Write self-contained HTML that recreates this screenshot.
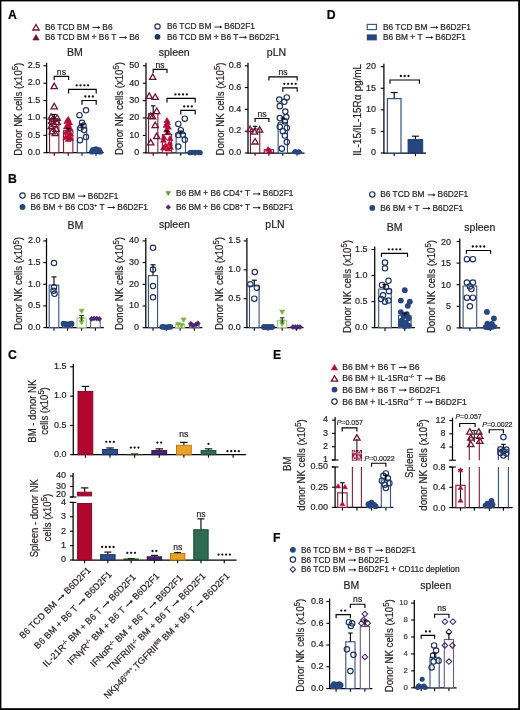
<!DOCTYPE html>
<html><head><meta charset="utf-8"><style>
html,body{margin:0;padding:0;background:#fff;width:520px;height:710px;overflow:hidden;}
svg{display:block;font-family:"Liberation Sans",sans-serif;will-change:transform;}
text{stroke-width:0.2px;}
#w{width:520px;height:710px;background:#fff;}
</style></head><body><div id="w">
<svg width="520" height="710" viewBox="0 0 520 710" font-family="Liberation Sans, sans-serif"><text x="0" y="0" font-size="13.6" font-weight="bold" fill="#000" stroke="#000" transform="translate(8.1 18.7) scale(0.9 1)" xml:space="preserve" style="white-space:pre"><tspan x="0" dy="0">A</tspan></text>
<path d="M36 24.53L39.15 30.01L32.85 30.01Z" stroke="#6e1532" stroke-width="1.3" fill="none" stroke-linejoin="miter"/>
<text x="45" y="29.92" font-size="8.35" fill="#231f20" stroke="#231f20" xml:space="preserve" style="white-space:pre"><tspan x="45" dy="0">B6 TCD BM </tspan><tspan x="100.06" dy="0"> B6</tspan></text>
<g><path d="M92.54 27.5L99.18 27.5" stroke="#231f20" stroke-width="0.96" fill="none"/><path d="M100.31 27.5L98.05 25.91L98.05 29.09Z" fill="#231f20"/></g>
<path d="M36 34.53L39.15 40.01L32.85 40.01Z" stroke="#6e1532" stroke-width="0.6" fill="#6e1532" />
<text x="45" y="39.92" font-size="8.35" fill="#231f20" stroke="#231f20" xml:space="preserve" style="white-space:pre"><tspan x="45" dy="0">B6 TCD BM + B6 T </tspan><tspan x="126.91" dy="0"> B6</tspan></text>
<g><path d="M119.39 37.5L126.03 37.5" stroke="#231f20" stroke-width="0.96" fill="none"/><path d="M127.16 37.5L124.9 35.91L124.9 39.09Z" fill="#231f20"/></g>
<circle cx="157.5" cy="26.5" r="2.7" fill="none" stroke="#1f3360" stroke-width="1.15"/>
<text x="167" y="29.42" font-size="8.35" fill="#231f20" stroke="#231f20" xml:space="preserve" style="white-space:pre"><tspan x="167" dy="0">B6 TCD BM </tspan><tspan x="222.06" dy="0"> B6D2F1</tspan></text>
<g><path d="M214.54 27L221.18 27" stroke="#231f20" stroke-width="0.96" fill="none"/><path d="M222.31 27L220.05 25.41L220.05 28.59Z" fill="#231f20"/></g>
<circle cx="157.5" cy="36.8" r="2.9" fill="#1f3360"/>
<text x="167" y="39.72" font-size="8.35" fill="#231f20" stroke="#231f20" xml:space="preserve" style="white-space:pre"><tspan x="167" dy="0">B6 TCD BM + B6 T</tspan><tspan x="246.74" dy="0"> B6D2F1</tspan></text>
<g><path d="M239.22 37.3L245.86 37.3" stroke="#231f20" stroke-width="0.96" fill="none"/><path d="M246.99 37.3L244.73 35.71L244.73 38.89Z" fill="#231f20"/></g>
<text x="67.12" y="55.8" font-size="10.5" fill="#231f20" stroke="#231f20" xml:space="preserve" style="white-space:pre"><tspan x="67.12" dy="0">BM</tspan></text>
<text x="158.73" y="55.5" font-size="10.5" fill="#231f20" stroke="#231f20" xml:space="preserve" style="white-space:pre"><tspan x="158.73" dy="0">spleen</tspan></text>
<text x="266.87" y="55.5" font-size="10.5" fill="#231f20" stroke="#231f20" xml:space="preserve" style="white-space:pre"><tspan x="266.87" dy="0">pLN</tspan></text>
<line x1="46.6" y1="152.7" x2="46.6" y2="62.8" stroke="#000" stroke-width="1.25"/>
<line x1="46" y1="152.7" x2="103.7" y2="152.7" stroke="#000" stroke-width="1.25"/>
<line x1="43.4" y1="152.7" x2="46.6" y2="152.7" stroke="#000" stroke-width="1.1"/>
<text x="27.69" y="154.99" font-size="9" fill="#231f20" stroke="#231f20" xml:space="preserve" style="white-space:pre"><tspan x="27.69" dy="0">0.0</tspan></text>
<line x1="43.4" y1="135.32" x2="46.6" y2="135.32" stroke="#000" stroke-width="1.1"/>
<text x="27.69" y="137.61" font-size="9" fill="#231f20" stroke="#231f20" xml:space="preserve" style="white-space:pre"><tspan x="27.69" dy="0">0.5</tspan></text>
<line x1="43.4" y1="117.94" x2="46.6" y2="117.94" stroke="#000" stroke-width="1.1"/>
<text x="27.69" y="120.23" font-size="9" fill="#231f20" stroke="#231f20" xml:space="preserve" style="white-space:pre"><tspan x="27.69" dy="0">1.0</tspan></text>
<line x1="43.4" y1="100.56" x2="46.6" y2="100.56" stroke="#000" stroke-width="1.1"/>
<text x="27.69" y="102.85" font-size="9" fill="#231f20" stroke="#231f20" xml:space="preserve" style="white-space:pre"><tspan x="27.69" dy="0">1.5</tspan></text>
<line x1="43.4" y1="83.18" x2="46.6" y2="83.18" stroke="#000" stroke-width="1.1"/>
<text x="27.69" y="85.47" font-size="9" fill="#231f20" stroke="#231f20" xml:space="preserve" style="white-space:pre"><tspan x="27.69" dy="0">2.0</tspan></text>
<line x1="43.4" y1="65.8" x2="46.6" y2="65.8" stroke="#000" stroke-width="1.1"/>
<text x="27.69" y="68.09" font-size="9" fill="#231f20" stroke="#231f20" xml:space="preserve" style="white-space:pre"><tspan x="27.69" dy="0">2.5</tspan></text>
<text x="-52.22" y="0" font-size="10.8" fill="#231f20" stroke="#231f20" transform="translate(21.82 109.2) rotate(-90) scale(0.89 1)" xml:space="preserve" style="white-space:pre"><tspan x="-52.22" dy="0">Donor NK cells (x10</tspan><tspan x="43.82" dy="-3.9" font-size="8.64">5</tspan><tspan x="48.62" dy="3.9">)</tspan></text>
<line x1="54.2" y1="152.5" x2="54.2" y2="155.7" stroke="#000" stroke-width="1.1"/>
<line x1="68.2" y1="152.5" x2="68.2" y2="155.7" stroke="#000" stroke-width="1.1"/>
<line x1="82" y1="152.5" x2="82" y2="155.7" stroke="#000" stroke-width="1.1"/>
<line x1="96" y1="152.5" x2="96" y2="155.7" stroke="#000" stroke-width="1.1"/>
<rect x="49.55" y="118.98" width="9.3" height="33.72" fill="#fff" stroke="#7e1d3b" stroke-width="1.1"/>
<rect x="63.55" y="130.8" width="9.3" height="21.9" fill="#fff" stroke="#7e1d3b" stroke-width="1.1"/>
<rect x="77.35" y="127.67" width="9.3" height="25.03" fill="#fff" stroke="#34507f" stroke-width="1.1"/>
<rect x="91.35" y="150.27" width="9.3" height="2.43" fill="#fff" stroke="#34507f" stroke-width="1.1"/>
<path d="M54.2 83.15L57.35 88.63L51.05 88.63Z" stroke="#6e1532" stroke-width="1.3" fill="none" stroke-linejoin="miter"/>
<path d="M54.2 103.31L57.35 108.79L51.05 108.79Z" stroke="#6e1532" stroke-width="1.3" fill="none" stroke-linejoin="miter"/>
<path d="M51.2 113.74L54.35 119.22L48.05 119.22Z" stroke="#6e1532" stroke-width="1.3" fill="none" stroke-linejoin="miter"/>
<path d="M57.2 114.78L60.35 120.26L54.05 120.26Z" stroke="#6e1532" stroke-width="1.3" fill="none" stroke-linejoin="miter"/>
<path d="M54.2 116.17L57.35 121.65L51.05 121.65Z" stroke="#6e1532" stroke-width="1.3" fill="none" stroke-linejoin="miter"/>
<path d="M51.7 117.91L54.85 123.39L48.55 123.39Z" stroke="#6e1532" stroke-width="1.3" fill="none" stroke-linejoin="miter"/>
<path d="M57.2 118.95L60.35 124.43L54.05 124.43Z" stroke="#6e1532" stroke-width="1.3" fill="none" stroke-linejoin="miter"/>
<path d="M54.2 121.04L57.35 126.52L51.05 126.52Z" stroke="#6e1532" stroke-width="1.3" fill="none" stroke-linejoin="miter"/>
<path d="M51.2 123.12L54.35 128.6L48.05 128.6Z" stroke="#6e1532" stroke-width="1.3" fill="none" stroke-linejoin="miter"/>
<path d="M56.2 125.9L59.35 131.38L53.05 131.38Z" stroke="#6e1532" stroke-width="1.3" fill="none" stroke-linejoin="miter"/>
<path d="M52.2 128.33L55.35 133.82L49.05 133.82Z" stroke="#6e1532" stroke-width="1.3" fill="none" stroke-linejoin="miter"/>
<path d="M55.2 130.07L58.35 135.55L52.05 135.55Z" stroke="#6e1532" stroke-width="1.3" fill="none" stroke-linejoin="miter"/>
<path d="M68.2 116.36L71.1 121.41L65.3 121.41Z" stroke="#b50d38" stroke-width="0.6" fill="#b50d38" />
<path d="M66.7 118.45L69.6 123.5L63.8 123.5Z" stroke="#b50d38" stroke-width="0.6" fill="#b50d38" />
<path d="M69.7 119.84L72.6 124.89L66.8 124.89Z" stroke="#b50d38" stroke-width="0.6" fill="#b50d38" />
<path d="M68.2 121.93L71.1 126.97L65.3 126.97Z" stroke="#b50d38" stroke-width="0.6" fill="#b50d38" />
<path d="M66.2 124.01L69.1 129.06L63.3 129.06Z" stroke="#b50d38" stroke-width="0.6" fill="#b50d38" />
<path d="M70.2 125.4L73.1 130.45L67.3 130.45Z" stroke="#b50d38" stroke-width="0.6" fill="#b50d38" />
<path d="M68.2 127.49L71.1 132.53L65.3 132.53Z" stroke="#b50d38" stroke-width="0.6" fill="#b50d38" />
<path d="M66 129.57L68.9 134.62L63.1 134.62Z" stroke="#b50d38" stroke-width="0.6" fill="#b50d38" />
<path d="M70.4 130.96L73.3 136.01L67.5 136.01Z" stroke="#b50d38" stroke-width="0.6" fill="#b50d38" />
<path d="M68.2 133.05L71.1 138.1L65.3 138.1Z" stroke="#b50d38" stroke-width="0.6" fill="#b50d38" />
<path d="M65.7 134.44L68.6 139.49L62.8 139.49Z" stroke="#b50d38" stroke-width="0.6" fill="#b50d38" />
<path d="M70.7 135.48L73.6 140.53L67.8 140.53Z" stroke="#b50d38" stroke-width="0.6" fill="#b50d38" />
<path d="M68.2 136.53L71.1 141.57L65.3 141.57Z" stroke="#b50d38" stroke-width="0.6" fill="#b50d38" />
<circle cx="86" cy="110.29" r="2.7" fill="none" stroke="#1f3360" stroke-width="1.15"/>
<circle cx="79.5" cy="115.16" r="2.7" fill="none" stroke="#1f3360" stroke-width="1.15"/>
<circle cx="82" cy="122.81" r="2.7" fill="none" stroke="#1f3360" stroke-width="1.15"/>
<circle cx="83.5" cy="125.59" r="2.7" fill="none" stroke="#1f3360" stroke-width="1.15"/>
<circle cx="80.5" cy="128.02" r="2.7" fill="none" stroke="#1f3360" stroke-width="1.15"/>
<circle cx="84" cy="130.11" r="2.7" fill="none" stroke="#1f3360" stroke-width="1.15"/>
<circle cx="86" cy="137.06" r="2.7" fill="none" stroke="#1f3360" stroke-width="1.15"/>
<circle cx="80" cy="140.19" r="2.7" fill="none" stroke="#1f3360" stroke-width="1.15"/>
<circle cx="96" cy="149.22" r="2.9" fill="#27457e"/>
<circle cx="93" cy="149.92" r="2.9" fill="#27457e"/>
<circle cx="99" cy="150.27" r="2.9" fill="#27457e"/>
<circle cx="94.5" cy="150.96" r="2.9" fill="#27457e"/>
<circle cx="97.5" cy="151.31" r="2.9" fill="#27457e"/>
<circle cx="92" cy="151.66" r="2.9" fill="#27457e"/>
<circle cx="100" cy="151.66" r="2.9" fill="#27457e"/>
<circle cx="96" cy="150.61" r="2.9" fill="#27457e"/>
<line x1="54.2" y1="114.46" x2="54.2" y2="118.98" stroke="#000" stroke-width="1.1"/>
<line x1="51.95" y1="114.46" x2="56.45" y2="114.46" stroke="#000" stroke-width="1.1"/>
<line x1="68.2" y1="128.37" x2="68.2" y2="130.8" stroke="#000" stroke-width="1.1"/>
<line x1="65.95" y1="128.37" x2="70.45" y2="128.37" stroke="#000" stroke-width="1.1"/>
<line x1="82" y1="124.2" x2="82" y2="127.67" stroke="#000" stroke-width="1.1"/>
<line x1="79.75" y1="124.2" x2="84.25" y2="124.2" stroke="#000" stroke-width="1.1"/>
<path d="M54.2 80L54.2 76.4L68.6 76.4L68.6 80" stroke="#000" stroke-width="1.15" fill="none" />
<text x="56.86" y="74.6" font-size="8.6" fill="#231f20" stroke="#231f20" xml:space="preserve" style="white-space:pre"><tspan x="56.86" dy="0">ns</tspan></text>
<path d="M68.6 93.5L68.6 89.3L96.2 89.3L96.2 93.5" stroke="#000" stroke-width="1.15" fill="none" />
<circle cx="76.7" cy="85.3" r="1.15" fill="#111"/>
<circle cx="80.5" cy="85.3" r="1.15" fill="#111"/>
<circle cx="84.3" cy="85.3" r="1.15" fill="#111"/>
<circle cx="88.1" cy="85.3" r="1.15" fill="#111"/>
<path d="M82 104.7L82 100.5L96.2 100.5L96.2 104.7" stroke="#000" stroke-width="1.15" fill="none" />
<circle cx="85.3" cy="96.5" r="1.15" fill="#111"/>
<circle cx="89.1" cy="96.5" r="1.15" fill="#111"/>
<circle cx="92.9" cy="96.5" r="1.15" fill="#111"/>
<line x1="146" y1="152.8" x2="146" y2="62.8" stroke="#000" stroke-width="1.25"/>
<line x1="145.4" y1="152.8" x2="202.5" y2="152.8" stroke="#000" stroke-width="1.25"/>
<line x1="142.8" y1="152.8" x2="146" y2="152.8" stroke="#000" stroke-width="1.1"/>
<text x="134.19" y="155.09" font-size="9" fill="#231f20" stroke="#231f20" xml:space="preserve" style="white-space:pre"><tspan x="134.19" dy="0">0</tspan></text>
<line x1="142.8" y1="135.4" x2="146" y2="135.4" stroke="#000" stroke-width="1.1"/>
<text x="129.19" y="137.69" font-size="9" fill="#231f20" stroke="#231f20" xml:space="preserve" style="white-space:pre"><tspan x="129.19" dy="0">10</tspan></text>
<line x1="142.8" y1="118" x2="146" y2="118" stroke="#000" stroke-width="1.1"/>
<text x="129.19" y="120.3" font-size="9" fill="#231f20" stroke="#231f20" xml:space="preserve" style="white-space:pre"><tspan x="129.19" dy="0">20</tspan></text>
<line x1="142.8" y1="100.6" x2="146" y2="100.6" stroke="#000" stroke-width="1.1"/>
<text x="129.19" y="102.9" font-size="9" fill="#231f20" stroke="#231f20" xml:space="preserve" style="white-space:pre"><tspan x="129.19" dy="0">30</tspan></text>
<line x1="142.8" y1="83.2" x2="146" y2="83.2" stroke="#000" stroke-width="1.1"/>
<text x="129.19" y="85.5" font-size="9" fill="#231f20" stroke="#231f20" xml:space="preserve" style="white-space:pre"><tspan x="129.19" dy="0">40</tspan></text>
<line x1="142.8" y1="65.8" x2="146" y2="65.8" stroke="#000" stroke-width="1.1"/>
<text x="129.19" y="68.09" font-size="9" fill="#231f20" stroke="#231f20" xml:space="preserve" style="white-space:pre"><tspan x="129.19" dy="0">50</tspan></text>
<text x="-52.22" y="0" font-size="10.8" fill="#231f20" stroke="#231f20" transform="translate(123.32 108.5) rotate(-90) scale(0.89 1)" xml:space="preserve" style="white-space:pre"><tspan x="-52.22" dy="0">Donor NK cells (x10</tspan><tspan x="43.82" dy="-3.9" font-size="8.64">5</tspan><tspan x="48.62" dy="3.9">)</tspan></text>
<line x1="153.2" y1="152.6" x2="153.2" y2="155.8" stroke="#000" stroke-width="1.1"/>
<line x1="167" y1="152.6" x2="167" y2="155.8" stroke="#000" stroke-width="1.1"/>
<line x1="180.8" y1="152.6" x2="180.8" y2="155.8" stroke="#000" stroke-width="1.1"/>
<line x1="195" y1="152.6" x2="195" y2="155.8" stroke="#000" stroke-width="1.1"/>
<rect x="148.55" y="113.65" width="9.3" height="39.15" fill="#fff" stroke="#7e1d3b" stroke-width="1.1"/>
<rect x="162.35" y="134.53" width="9.3" height="18.27" fill="#fff" stroke="#7e1d3b" stroke-width="1.1"/>
<rect x="176.15" y="133.66" width="9.3" height="19.14" fill="#fff" stroke="#34507f" stroke-width="1.1"/>
<rect x="190.35" y="152.1" width="9.3" height="0.7" fill="#fff" stroke="#34507f" stroke-width="1.1"/>
<path d="M152.7 73.95L155.85 79.43L149.55 79.43Z" stroke="#6e1532" stroke-width="1.3" fill="none" stroke-linejoin="miter"/>
<path d="M149.2 92.91L152.35 98.39L146.05 98.39Z" stroke="#6e1532" stroke-width="1.3" fill="none" stroke-linejoin="miter"/>
<path d="M155.2 93.96L158.35 99.44L152.05 99.44Z" stroke="#6e1532" stroke-width="1.3" fill="none" stroke-linejoin="miter"/>
<path d="M156.7 108.05L159.85 113.53L153.55 113.53Z" stroke="#6e1532" stroke-width="1.3" fill="none" stroke-linejoin="miter"/>
<path d="M150.7 112.92L153.85 118.4L147.55 118.4Z" stroke="#6e1532" stroke-width="1.3" fill="none" stroke-linejoin="miter"/>
<path d="M152.6 113.45L155.75 118.93L149.45 118.93Z" stroke="#6e1532" stroke-width="1.3" fill="none" stroke-linejoin="miter"/>
<path d="M155.2 122.15L158.35 127.63L152.05 127.63Z" stroke="#6e1532" stroke-width="1.3" fill="none" stroke-linejoin="miter"/>
<path d="M156.7 133.11L159.85 138.59L153.55 138.59Z" stroke="#6e1532" stroke-width="1.3" fill="none" stroke-linejoin="miter"/>
<path d="M150.7 139.37L153.85 144.85L147.55 144.85Z" stroke="#6e1532" stroke-width="1.3" fill="none" stroke-linejoin="miter"/>
<path d="M167 117.47L169.9 122.52L164.1 122.52Z" stroke="#b50d38" stroke-width="0.6" fill="#b50d38" />
<path d="M167.5 119.56L170.4 124.6L164.6 124.6Z" stroke="#b50d38" stroke-width="0.6" fill="#b50d38" />
<path d="M166 122.34L168.9 127.39L163.1 127.39Z" stroke="#b50d38" stroke-width="0.6" fill="#b50d38" />
<path d="M168.5 124.08L171.4 129.13L165.6 129.13Z" stroke="#b50d38" stroke-width="0.6" fill="#b50d38" />
<path d="M166.5 127.04L169.4 132.09L163.6 132.09Z" stroke="#b50d38" stroke-width="0.6" fill="#b50d38" />
<path d="M168 129.3L170.9 134.35L165.1 134.35Z" stroke="#b50d38" stroke-width="0.6" fill="#b50d38" />
<path d="M164 134.52L166.9 139.57L161.1 139.57Z" stroke="#b50d38" stroke-width="0.6" fill="#b50d38" />
<path d="M170 135.57L172.9 140.61L167.1 140.61Z" stroke="#b50d38" stroke-width="0.6" fill="#b50d38" />
<path d="M163.5 137.31L166.4 142.35L160.6 142.35Z" stroke="#b50d38" stroke-width="0.6" fill="#b50d38" />
<path d="M169.5 140.44L172.4 145.48L166.6 145.48Z" stroke="#b50d38" stroke-width="0.6" fill="#b50d38" />
<path d="M165.5 142.7L168.4 147.75L162.6 147.75Z" stroke="#b50d38" stroke-width="0.6" fill="#b50d38" />
<path d="M170.5 144.27L173.4 149.31L167.6 149.31Z" stroke="#b50d38" stroke-width="0.6" fill="#b50d38" />
<path d="M163.5 144.96L166.4 150.01L160.6 150.01Z" stroke="#b50d38" stroke-width="0.6" fill="#b50d38" />
<path d="M168 146.01L170.9 151.05L165.1 151.05Z" stroke="#b50d38" stroke-width="0.6" fill="#b50d38" />
<circle cx="184.8" cy="118.7" r="2.7" fill="none" stroke="#1f3360" stroke-width="1.15"/>
<circle cx="178.3" cy="123.92" r="2.7" fill="none" stroke="#1f3360" stroke-width="1.15"/>
<circle cx="180.8" cy="130.18" r="2.7" fill="none" stroke="#1f3360" stroke-width="1.15"/>
<circle cx="178.3" cy="135.05" r="2.7" fill="none" stroke="#1f3360" stroke-width="1.15"/>
<circle cx="182.8" cy="134.7" r="2.7" fill="none" stroke="#1f3360" stroke-width="1.15"/>
<circle cx="184.8" cy="139.75" r="2.7" fill="none" stroke="#1f3360" stroke-width="1.15"/>
<circle cx="178.3" cy="146.54" r="2.7" fill="none" stroke="#1f3360" stroke-width="1.15"/>
<circle cx="192" cy="152.28" r="2.6" fill="#27457e"/>
<circle cx="198" cy="152.28" r="2.6" fill="#27457e"/>
<circle cx="195" cy="152.45" r="2.6" fill="#27457e"/>
<circle cx="190" cy="152.63" r="2.6" fill="#27457e"/>
<circle cx="200" cy="152.63" r="2.6" fill="#27457e"/>
<line x1="153.2" y1="105.82" x2="153.2" y2="113.65" stroke="#000" stroke-width="1.1"/>
<line x1="150.95" y1="105.82" x2="155.45" y2="105.82" stroke="#000" stroke-width="1.1"/>
<line x1="167" y1="131.05" x2="167" y2="134.53" stroke="#000" stroke-width="1.1"/>
<line x1="164.75" y1="131.05" x2="169.25" y2="131.05" stroke="#000" stroke-width="1.1"/>
<line x1="180.8" y1="131.05" x2="180.8" y2="133.66" stroke="#000" stroke-width="1.1"/>
<line x1="178.55" y1="131.05" x2="183.05" y2="131.05" stroke="#000" stroke-width="1.1"/>
<path d="M153.2 73L153.2 69.4L167 69.4L167 73" stroke="#000" stroke-width="1.15" fill="none" />
<text x="155.56" y="67.6" font-size="8.6" fill="#231f20" stroke="#231f20" xml:space="preserve" style="white-space:pre"><tspan x="155.56" dy="0">ns</tspan></text>
<path d="M167 102.6L167 98.4L195.2 98.4L195.2 102.6" stroke="#000" stroke-width="1.15" fill="none" />
<circle cx="175.4" cy="94.4" r="1.15" fill="#111"/>
<circle cx="179.2" cy="94.4" r="1.15" fill="#111"/>
<circle cx="183" cy="94.4" r="1.15" fill="#111"/>
<circle cx="186.8" cy="94.4" r="1.15" fill="#111"/>
<path d="M180.8 114.6L180.8 110.4L195.2 110.4L195.2 114.6" stroke="#000" stroke-width="1.15" fill="none" />
<circle cx="184.2" cy="106.4" r="1.15" fill="#111"/>
<circle cx="188" cy="106.4" r="1.15" fill="#111"/>
<circle cx="191.8" cy="106.4" r="1.15" fill="#111"/>
<line x1="248" y1="153" x2="248" y2="62.8" stroke="#000" stroke-width="1.25"/>
<line x1="247.4" y1="153" x2="304.5" y2="153" stroke="#000" stroke-width="1.25"/>
<line x1="244.8" y1="153" x2="248" y2="153" stroke="#000" stroke-width="1.1"/>
<text x="228.69" y="155.29" font-size="9" fill="#231f20" stroke="#231f20" xml:space="preserve" style="white-space:pre"><tspan x="228.69" dy="0">0.0</tspan></text>
<line x1="244.8" y1="131.2" x2="248" y2="131.2" stroke="#000" stroke-width="1.1"/>
<text x="228.69" y="133.49" font-size="9" fill="#231f20" stroke="#231f20" xml:space="preserve" style="white-space:pre"><tspan x="228.69" dy="0">0.2</tspan></text>
<line x1="244.8" y1="109.4" x2="248" y2="109.4" stroke="#000" stroke-width="1.1"/>
<text x="228.69" y="111.7" font-size="9" fill="#231f20" stroke="#231f20" xml:space="preserve" style="white-space:pre"><tspan x="228.69" dy="0">0.4</tspan></text>
<line x1="244.8" y1="87.6" x2="248" y2="87.6" stroke="#000" stroke-width="1.1"/>
<text x="228.69" y="89.9" font-size="9" fill="#231f20" stroke="#231f20" xml:space="preserve" style="white-space:pre"><tspan x="228.69" dy="0">0.6</tspan></text>
<line x1="244.8" y1="65.8" x2="248" y2="65.8" stroke="#000" stroke-width="1.1"/>
<text x="228.69" y="68.09" font-size="9" fill="#231f20" stroke="#231f20" xml:space="preserve" style="white-space:pre"><tspan x="228.69" dy="0">0.8</tspan></text>
<text x="-52.22" y="0" font-size="10.8" fill="#231f20" stroke="#231f20" transform="translate(223.92 109) rotate(-90) scale(0.89 1)" xml:space="preserve" style="white-space:pre"><tspan x="-52.22" dy="0">Donor NK cells (x10</tspan><tspan x="43.82" dy="-3.9" font-size="8.64">5</tspan><tspan x="48.62" dy="3.9">)</tspan></text>
<line x1="255.1" y1="152.6" x2="255.1" y2="155.8" stroke="#000" stroke-width="1.1"/>
<line x1="268.9" y1="152.6" x2="268.9" y2="155.8" stroke="#000" stroke-width="1.1"/>
<line x1="282.8" y1="152.6" x2="282.8" y2="155.8" stroke="#000" stroke-width="1.1"/>
<line x1="297" y1="152.6" x2="297" y2="155.8" stroke="#000" stroke-width="1.1"/>
<rect x="250.45" y="129.02" width="9.3" height="23.98" fill="#fff" stroke="#7e1d3b" stroke-width="1.1"/>
<rect x="264.25" y="149.73" width="9.3" height="3.27" fill="#fff" stroke="#7e1d3b" stroke-width="1.1"/>
<rect x="278.15" y="122.48" width="9.3" height="30.52" fill="#fff" stroke="#34507f" stroke-width="1.1"/>
<rect x="292.35" y="151.69" width="9.3" height="1.31" fill="#fff" stroke="#34507f" stroke-width="1.1"/>
<path d="M250.1 126.01L253.25 131.49L246.95 131.49Z" stroke="#6e1532" stroke-width="1.3" fill="none" stroke-linejoin="miter"/>
<path d="M259.6 126.55L262.75 132.03L256.45 132.03Z" stroke="#6e1532" stroke-width="1.3" fill="none" stroke-linejoin="miter"/>
<path d="M254.6 128.73L257.75 134.21L251.45 134.21Z" stroke="#6e1532" stroke-width="1.3" fill="none" stroke-linejoin="miter"/>
<path d="M255.1 138.54L258.25 144.02L251.95 144.02Z" stroke="#6e1532" stroke-width="1.3" fill="none" stroke-linejoin="miter"/>
<path d="M268.1 146.45L270.9 151.32L265.3 151.32Z" stroke="#b50d38" stroke-width="0.6" fill="#b50d38" />
<path d="M269.9 148.08L272.7 152.95L267.1 152.95Z" stroke="#b50d38" stroke-width="0.6" fill="#b50d38" />
<circle cx="286.8" cy="97.41" r="2.7" fill="none" stroke="#1f3360" stroke-width="1.15"/>
<circle cx="279.3" cy="99.59" r="2.7" fill="none" stroke="#1f3360" stroke-width="1.15"/>
<circle cx="284.3" cy="101.77" r="2.7" fill="none" stroke="#1f3360" stroke-width="1.15"/>
<circle cx="279.8" cy="106.13" r="2.7" fill="none" stroke="#1f3360" stroke-width="1.15"/>
<circle cx="285.3" cy="111.58" r="2.7" fill="none" stroke="#1f3360" stroke-width="1.15"/>
<circle cx="286.3" cy="117.03" r="2.7" fill="none" stroke="#1f3360" stroke-width="1.15"/>
<circle cx="279.8" cy="118.12" r="2.7" fill="none" stroke="#1f3360" stroke-width="1.15"/>
<circle cx="284.8" cy="121.39" r="2.7" fill="none" stroke="#1f3360" stroke-width="1.15"/>
<circle cx="279.8" cy="126.84" r="2.7" fill="none" stroke="#1f3360" stroke-width="1.15"/>
<circle cx="286.8" cy="127.93" r="2.7" fill="none" stroke="#1f3360" stroke-width="1.15"/>
<circle cx="282.8" cy="131.2" r="2.7" fill="none" stroke="#1f3360" stroke-width="1.15"/>
<circle cx="284.8" cy="135.56" r="2.7" fill="none" stroke="#1f3360" stroke-width="1.15"/>
<circle cx="286.8" cy="142.1" r="2.7" fill="none" stroke="#1f3360" stroke-width="1.15"/>
<circle cx="281.8" cy="148.64" r="2.7" fill="none" stroke="#1f3360" stroke-width="1.15"/>
<circle cx="295.2" cy="151.69" r="2.6" fill="#27457e"/>
<circle cx="298.8" cy="151.91" r="2.6" fill="#27457e"/>
<line x1="255.1" y1="126.3" x2="255.1" y2="129.02" stroke="#000" stroke-width="1.1"/>
<line x1="252.85" y1="126.3" x2="257.35" y2="126.3" stroke="#000" stroke-width="1.1"/>
<line x1="282.8" y1="118.12" x2="282.8" y2="122.48" stroke="#000" stroke-width="1.1"/>
<line x1="280.55" y1="118.12" x2="285.05" y2="118.12" stroke="#000" stroke-width="1.1"/>
<path d="M268.9 80.6L268.9 76.8L297.2 76.8L297.2 80.6" stroke="#000" stroke-width="1.15" fill="none" />
<text x="278.51" y="75" font-size="8.6" fill="#231f20" stroke="#231f20" xml:space="preserve" style="white-space:pre"><tspan x="278.51" dy="0">ns</tspan></text>
<path d="M282.8 91.8L282.8 87.8L297.2 87.8L297.2 91.8" stroke="#000" stroke-width="1.15" fill="none" />
<circle cx="284.3" cy="83.8" r="1.15" fill="#111"/>
<circle cx="288.1" cy="83.8" r="1.15" fill="#111"/>
<circle cx="291.9" cy="83.8" r="1.15" fill="#111"/>
<circle cx="295.7" cy="83.8" r="1.15" fill="#111"/>
<path d="M255.1 122.1L255.1 118.5L268.9 118.5L268.9 122.1" stroke="#000" stroke-width="1.15" fill="none" />
<text x="257.46" y="116.7" font-size="8.6" fill="#231f20" stroke="#231f20" xml:space="preserve" style="white-space:pre"><tspan x="257.46" dy="0">ns</tspan></text>
<text x="0" y="0" font-size="13.6" font-weight="bold" fill="#000" stroke="#000" transform="translate(326.8 19) scale(0.9 1)" xml:space="preserve" style="white-space:pre"><tspan x="0" dy="0">D</tspan></text>
<rect x="367.2" y="24.4" width="9.2" height="5.2" fill="#fff" stroke="#34507f" stroke-width="1.1"/>
<text x="383" y="29.8" font-size="8.35" fill="#231f20" stroke="#231f20" xml:space="preserve" style="white-space:pre"><tspan x="383" dy="0">B6 TCD BM </tspan><tspan x="438.06" dy="0"> B6D2F1</tspan></text>
<g><path d="M430.54 27.38L437.18 27.38" stroke="#231f20" stroke-width="0.96" fill="none"/><path d="M438.31 27.38L436.05 25.79L436.05 28.97Z" fill="#231f20"/></g>
<rect x="366.8" y="34.4" width="10" height="6" fill="#27457e" stroke="none" stroke-width="1"/>
<text x="383" y="39.9" font-size="8.35" fill="#231f20" stroke="#231f20" xml:space="preserve" style="white-space:pre"><tspan x="383" dy="0">B6 BM + T </tspan><tspan x="433.04" dy="0"> B6D2F1</tspan></text>
<g><path d="M425.53 37.48L432.17 37.48" stroke="#231f20" stroke-width="0.96" fill="none"/><path d="M433.29 37.48L431.04 35.89L431.04 39.06Z" fill="#231f20"/></g>
<line x1="383.9" y1="153" x2="383.9" y2="63.7" stroke="#000" stroke-width="1.25"/>
<line x1="383.3" y1="153" x2="426" y2="153" stroke="#000" stroke-width="1.25"/>
<line x1="380.7" y1="153" x2="383.9" y2="153" stroke="#000" stroke-width="1.1"/>
<text x="370.99" y="155.29" font-size="9" fill="#231f20" stroke="#231f20" xml:space="preserve" style="white-space:pre"><tspan x="370.99" dy="0">0</tspan></text>
<line x1="380.7" y1="131.43" x2="383.9" y2="131.43" stroke="#000" stroke-width="1.1"/>
<text x="370.99" y="133.72" font-size="9" fill="#231f20" stroke="#231f20" xml:space="preserve" style="white-space:pre"><tspan x="370.99" dy="0">5</tspan></text>
<line x1="380.7" y1="109.85" x2="383.9" y2="109.85" stroke="#000" stroke-width="1.1"/>
<text x="365.99" y="112.15" font-size="9" fill="#231f20" stroke="#231f20" xml:space="preserve" style="white-space:pre"><tspan x="365.99" dy="0">10</tspan></text>
<line x1="380.7" y1="88.28" x2="383.9" y2="88.28" stroke="#000" stroke-width="1.1"/>
<text x="365.99" y="90.57" font-size="9" fill="#231f20" stroke="#231f20" xml:space="preserve" style="white-space:pre"><tspan x="365.99" dy="0">15</tspan></text>
<line x1="380.7" y1="66.7" x2="383.9" y2="66.7" stroke="#000" stroke-width="1.1"/>
<text x="365.99" y="69" font-size="9" fill="#231f20" stroke="#231f20" xml:space="preserve" style="white-space:pre"><tspan x="365.99" dy="0">20</tspan></text>
<text x="-51.72" y="0" font-size="11.25" fill="#231f20" stroke="#231f20" transform="translate(361.27 109.8) rotate(-90) scale(0.89 1)" xml:space="preserve" style="white-space:pre"><tspan x="-51.72" dy="0">IL-15/IL-15R</tspan><tspan x="10.82" dy="0">α</tspan><tspan x="17.32" dy="0"> pg/mL</tspan></text>
<line x1="394.2" y1="153" x2="394.2" y2="156.2" stroke="#000" stroke-width="1.1"/>
<line x1="415.4" y1="153" x2="415.4" y2="156.2" stroke="#000" stroke-width="1.1"/>
<line x1="394.2" y1="92.59" x2="394.2" y2="98.63" stroke="#000" stroke-width="1.1"/>
<line x1="390.7" y1="92.59" x2="397.7" y2="92.59" stroke="#000" stroke-width="1.1"/>
<rect x="387.4" y="98.63" width="13.6" height="54.37" fill="#fff" stroke="#34507f" stroke-width="1.2"/>
<line x1="415.4" y1="136.17" x2="415.4" y2="139.62" stroke="#000" stroke-width="1.1"/>
<line x1="411.9" y1="136.17" x2="418.9" y2="136.17" stroke="#000" stroke-width="1.1"/>
<rect x="408.1" y="139.62" width="14.6" height="13.38" fill="#27457e" stroke="#1f3a6b" stroke-width="1"/>
<path d="M390 83.8L390 80L419.4 80L419.4 83.8" stroke="#000" stroke-width="1.15" fill="none" />
<circle cx="400.9" cy="76" r="1.15" fill="#111"/>
<circle cx="404.7" cy="76" r="1.15" fill="#111"/>
<circle cx="408.5" cy="76" r="1.15" fill="#111"/>
<text x="0" y="0" font-size="13.6" font-weight="bold" fill="#000" stroke="#000" transform="translate(7.9 182.8) scale(0.9 1)" xml:space="preserve" style="white-space:pre"><tspan x="0" dy="0">B</tspan></text>
<circle cx="22.5" cy="195.6" r="2.7" fill="none" stroke="#1f3360" stroke-width="1.15"/>
<text x="30.5" y="198.52" font-size="8.35" fill="#231f20" stroke="#231f20" xml:space="preserve" style="white-space:pre"><tspan x="30.5" dy="0">B6 TCD BM </tspan><tspan x="85.56" dy="0"> B6D2F1</tspan></text>
<g><path d="M78.04 196.1L84.68 196.1" stroke="#231f20" stroke-width="0.96" fill="none"/><path d="M85.81 196.1L83.55 194.51L83.55 197.69Z" fill="#231f20"/></g>
<circle cx="22.5" cy="207" r="2.9" fill="#27457e"/>
<text x="30.5" y="209.92" font-size="8.35" fill="#231f20" stroke="#231f20" xml:space="preserve" style="white-space:pre"><tspan x="30.5" dy="0">B6 BM + B6 CD3</tspan><tspan x="94.31" dy="-3" font-size="5.01">+</tspan><tspan x="97.24" dy="3"> T </tspan><tspan x="115.03" dy="0"> B6D2F1</tspan></text>
<g><path d="M107.51 207.5L114.15 207.5" stroke="#231f20" stroke-width="0.96" fill="none"/><path d="M115.28 207.5L113.02 205.91L113.02 209.09Z" fill="#231f20"/></g>
<path d="M168.3 195.6L170.6 191.6L166 191.6Z" stroke="#5d9a3c" stroke-width="0.6" fill="#5d9a3c" />
<text x="176" y="196.32" font-size="8.35" fill="#231f20" stroke="#231f20" xml:space="preserve" style="white-space:pre"><tspan x="176" dy="0">B6 BM + B6 CD4</tspan><tspan x="239.81" dy="-3" font-size="5.01">+</tspan><tspan x="242.74" dy="3"> T </tspan><tspan x="260.53" dy="0"> B6D2F1</tspan></text>
<g><path d="M253.01 193.9L259.65 193.9" stroke="#231f20" stroke-width="0.96" fill="none"/><path d="M260.78 193.9L258.52 192.31L258.52 195.49Z" fill="#231f20"/></g>
<path d="M168.3 204.8L170.7 207.2L168.3 209.6L165.9 207.2Z" stroke="#4a2870" stroke-width="0.5" fill="#4a2870" />
<text x="176" y="210.12" font-size="8.35" fill="#231f20" stroke="#231f20" xml:space="preserve" style="white-space:pre"><tspan x="176" dy="0">B6 BM + B6 CD8</tspan><tspan x="239.81" dy="-3" font-size="5.01">+</tspan><tspan x="242.74" dy="3"> T </tspan><tspan x="260.53" dy="0"> B6D2F1</tspan></text>
<g><path d="M253.01 207.7L259.65 207.7" stroke="#231f20" stroke-width="0.96" fill="none"/><path d="M260.78 207.7L258.52 206.11L258.52 209.29Z" fill="#231f20"/></g>
<text x="67.42" y="228.5" font-size="10.5" fill="#231f20" stroke="#231f20" xml:space="preserve" style="white-space:pre"><tspan x="67.42" dy="0">BM</tspan></text>
<text x="158.93" y="228" font-size="10.5" fill="#231f20" stroke="#231f20" xml:space="preserve" style="white-space:pre"><tspan x="158.93" dy="0">spleen</tspan></text>
<text x="265.37" y="228" font-size="10.5" fill="#231f20" stroke="#231f20" xml:space="preserve" style="white-space:pre"><tspan x="265.37" dy="0">pLN</tspan></text>
<line x1="46.5" y1="327.6" x2="46.5" y2="237.9" stroke="#000" stroke-width="1.25"/>
<line x1="45.9" y1="327.6" x2="103.8" y2="327.6" stroke="#000" stroke-width="1.25"/>
<line x1="43.3" y1="327.6" x2="46.5" y2="327.6" stroke="#000" stroke-width="1.1"/>
<text x="27.89" y="329.9" font-size="9" fill="#231f20" stroke="#231f20" xml:space="preserve" style="white-space:pre"><tspan x="27.89" dy="0">0.0</tspan></text>
<line x1="43.3" y1="305.93" x2="46.5" y2="305.93" stroke="#000" stroke-width="1.1"/>
<text x="27.89" y="308.22" font-size="9" fill="#231f20" stroke="#231f20" xml:space="preserve" style="white-space:pre"><tspan x="27.89" dy="0">0.5</tspan></text>
<line x1="43.3" y1="284.25" x2="46.5" y2="284.25" stroke="#000" stroke-width="1.1"/>
<text x="27.89" y="286.55" font-size="9" fill="#231f20" stroke="#231f20" xml:space="preserve" style="white-space:pre"><tspan x="27.89" dy="0">1.0</tspan></text>
<line x1="43.3" y1="262.58" x2="46.5" y2="262.58" stroke="#000" stroke-width="1.1"/>
<text x="27.89" y="264.87" font-size="9" fill="#231f20" stroke="#231f20" xml:space="preserve" style="white-space:pre"><tspan x="27.89" dy="0">1.5</tspan></text>
<line x1="43.3" y1="240.9" x2="46.5" y2="240.9" stroke="#000" stroke-width="1.1"/>
<text x="27.89" y="243.19" font-size="9" fill="#231f20" stroke="#231f20" xml:space="preserve" style="white-space:pre"><tspan x="27.89" dy="0">2.0</tspan></text>
<text x="-52.22" y="0" font-size="10.8" fill="#231f20" stroke="#231f20" transform="translate(22.42 283.5) rotate(-90) scale(0.89 1)" xml:space="preserve" style="white-space:pre"><tspan x="-52.22" dy="0">Donor NK cells (x10</tspan><tspan x="43.82" dy="-3.9" font-size="8.64">5</tspan><tspan x="48.62" dy="3.9">)</tspan></text>
<line x1="54" y1="327.6" x2="54" y2="330.8" stroke="#000" stroke-width="1.1"/>
<line x1="67.6" y1="327.6" x2="67.6" y2="330.8" stroke="#000" stroke-width="1.1"/>
<line x1="81.6" y1="327.6" x2="81.6" y2="330.8" stroke="#000" stroke-width="1.1"/>
<line x1="95.4" y1="327.6" x2="95.4" y2="330.8" stroke="#000" stroke-width="1.1"/>
<rect x="49.2" y="285.12" width="9.6" height="42.48" fill="#fff" stroke="#34507f" stroke-width="1.1"/>
<rect x="62.8" y="324.13" width="9.6" height="3.47" fill="#fff" stroke="#34507f" stroke-width="1.1"/>
<rect x="77" y="318.06" width="9.2" height="9.54" fill="#fff" stroke="#a3cc86" stroke-width="1.1"/>
<rect x="90.6" y="318.5" width="9.6" height="9.1" fill="#fff" stroke="#6c5a80" stroke-width="1.1"/>
<circle cx="54" cy="263.01" r="2.7" fill="none" stroke="#1f3360" stroke-width="1.15"/>
<circle cx="54" cy="287.28" r="2.7" fill="none" stroke="#1f3360" stroke-width="1.15"/>
<circle cx="53.5" cy="290.75" r="2.7" fill="none" stroke="#1f3360" stroke-width="1.15"/>
<circle cx="54.5" cy="293.79" r="2.7" fill="none" stroke="#1f3360" stroke-width="1.15"/>
<circle cx="63.6" cy="323.7" r="2.9" fill="#27457e"/>
<circle cx="66.1" cy="324.13" r="2.9" fill="#27457e"/>
<circle cx="69.1" cy="324.13" r="2.9" fill="#27457e"/>
<circle cx="71.6" cy="323.7" r="2.9" fill="#27457e"/>
<path d="M81.6 313.52L84.1 309.17L79.1 309.17Z" stroke="#78b040" stroke-width="0.6" fill="#78b040" />
<path d="M81.6 321.32L84.1 316.97L79.1 316.97Z" stroke="#78b040" stroke-width="0.6" fill="#78b040" />
<path d="M81.6 324.79L84.1 320.44L79.1 320.44Z" stroke="#78b040" stroke-width="0.6" fill="#78b040" />
<path d="M91.6 316.33L94.2 318.93L91.6 321.53L89 318.93Z" stroke="#4a2870" stroke-width="0.5" fill="#4a2870" />
<path d="M94.1 315.9L96.7 318.5L94.1 321.1L91.5 318.5Z" stroke="#4a2870" stroke-width="0.5" fill="#4a2870" />
<path d="M96.7 315.9L99.3 318.5L96.7 321.1L94.1 318.5Z" stroke="#4a2870" stroke-width="0.5" fill="#4a2870" />
<path d="M99.2 316.33L101.8 318.93L99.2 321.53L96.6 318.93Z" stroke="#4a2870" stroke-width="0.5" fill="#4a2870" />
<line x1="54" y1="276.88" x2="54" y2="285.12" stroke="#000" stroke-width="1.1"/>
<line x1="51.5" y1="276.88" x2="56.5" y2="276.88" stroke="#000" stroke-width="1.1"/>
<line x1="81.6" y1="315.46" x2="81.6" y2="320.66" stroke="#1a3a10" stroke-width="1.1"/>
<line x1="79.35" y1="315.46" x2="83.85" y2="315.46" stroke="#1a3a10" stroke-width="1.1"/>
<line x1="145.8" y1="327.7" x2="145.8" y2="237.9" stroke="#000" stroke-width="1.25"/>
<line x1="145.2" y1="327.7" x2="202.4" y2="327.7" stroke="#000" stroke-width="1.25"/>
<line x1="142.6" y1="327.7" x2="145.8" y2="327.7" stroke="#000" stroke-width="1.1"/>
<text x="134.09" y="330" font-size="9" fill="#231f20" stroke="#231f20" xml:space="preserve" style="white-space:pre"><tspan x="134.09" dy="0">0</tspan></text>
<line x1="142.6" y1="306" x2="145.8" y2="306" stroke="#000" stroke-width="1.1"/>
<text x="129.09" y="308.3" font-size="9" fill="#231f20" stroke="#231f20" xml:space="preserve" style="white-space:pre"><tspan x="129.09" dy="0">10</tspan></text>
<line x1="142.6" y1="284.3" x2="145.8" y2="284.3" stroke="#000" stroke-width="1.1"/>
<text x="129.09" y="286.6" font-size="9" fill="#231f20" stroke="#231f20" xml:space="preserve" style="white-space:pre"><tspan x="129.09" dy="0">20</tspan></text>
<line x1="142.6" y1="262.6" x2="145.8" y2="262.6" stroke="#000" stroke-width="1.1"/>
<text x="129.09" y="264.9" font-size="9" fill="#231f20" stroke="#231f20" xml:space="preserve" style="white-space:pre"><tspan x="129.09" dy="0">30</tspan></text>
<line x1="142.6" y1="240.9" x2="145.8" y2="240.9" stroke="#000" stroke-width="1.1"/>
<text x="129.09" y="243.19" font-size="9" fill="#231f20" stroke="#231f20" xml:space="preserve" style="white-space:pre"><tspan x="129.09" dy="0">40</tspan></text>
<text x="-52.22" y="0" font-size="10.8" fill="#231f20" stroke="#231f20" transform="translate(123.12 283.5) rotate(-90) scale(0.89 1)" xml:space="preserve" style="white-space:pre"><tspan x="-52.22" dy="0">Donor NK cells (x10</tspan><tspan x="43.82" dy="-3.9" font-size="8.64">5</tspan><tspan x="48.62" dy="3.9">)</tspan></text>
<line x1="153" y1="327.6" x2="153" y2="330.8" stroke="#000" stroke-width="1.1"/>
<line x1="166.3" y1="327.6" x2="166.3" y2="330.8" stroke="#000" stroke-width="1.1"/>
<line x1="180.1" y1="327.6" x2="180.1" y2="330.8" stroke="#000" stroke-width="1.1"/>
<line x1="194.3" y1="327.6" x2="194.3" y2="330.8" stroke="#000" stroke-width="1.1"/>
<rect x="148.4" y="275.62" width="9.2" height="52.08" fill="#fff" stroke="#34507f" stroke-width="1.1"/>
<rect x="161.5" y="326.83" width="9.6" height="0.87" fill="#fff" stroke="#34507f" stroke-width="1.1"/>
<rect x="175.5" y="324.66" width="9.2" height="3.04" fill="#fff" stroke="#a3cc86" stroke-width="1.1"/>
<rect x="189.5" y="324.88" width="9.6" height="2.82" fill="#fff" stroke="#6c5a80" stroke-width="1.1"/>
<circle cx="153" cy="247.84" r="2.7" fill="none" stroke="#1f3360" stroke-width="1.15"/>
<circle cx="153" cy="269.54" r="2.7" fill="none" stroke="#1f3360" stroke-width="1.15"/>
<circle cx="153" cy="286.04" r="2.7" fill="none" stroke="#1f3360" stroke-width="1.15"/>
<circle cx="153" cy="297.32" r="2.7" fill="none" stroke="#1f3360" stroke-width="1.15"/>
<circle cx="162.3" cy="326.83" r="2.9" fill="#27457e"/>
<circle cx="164.8" cy="327.05" r="2.9" fill="#27457e"/>
<circle cx="167.8" cy="327.05" r="2.9" fill="#27457e"/>
<circle cx="170.3" cy="326.83" r="2.9" fill="#27457e"/>
<path d="M183.6 322.28L186.1 317.93L181.1 317.93Z" stroke="#78b040" stroke-width="0.6" fill="#78b040" />
<path d="M178.1 326.84L180.6 322.49L175.6 322.49Z" stroke="#78b040" stroke-width="0.6" fill="#78b040" />
<path d="M181.6 327.92L184.1 323.57L179.1 323.57Z" stroke="#78b040" stroke-width="0.6" fill="#78b040" />
<path d="M190.8 321.19L193.4 323.79L190.8 326.39L188.2 323.79Z" stroke="#4a2870" stroke-width="0.5" fill="#4a2870" />
<path d="M192.8 322.93L195.4 325.53L192.8 328.13L190.2 325.53Z" stroke="#4a2870" stroke-width="0.5" fill="#4a2870" />
<path d="M195.8 322.06L198.4 324.66L195.8 327.26L193.2 324.66Z" stroke="#4a2870" stroke-width="0.5" fill="#4a2870" />
<path d="M197.8 320.76L200.4 323.36L197.8 325.96L195.2 323.36Z" stroke="#4a2870" stroke-width="0.5" fill="#4a2870" />
<line x1="153" y1="264.77" x2="153" y2="275.62" stroke="#000" stroke-width="1.1"/>
<line x1="150.5" y1="264.77" x2="155.5" y2="264.77" stroke="#000" stroke-width="1.1"/>
<line x1="246.9" y1="327.6" x2="246.9" y2="237.9" stroke="#000" stroke-width="1.25"/>
<line x1="246.3" y1="327.6" x2="303.5" y2="327.6" stroke="#000" stroke-width="1.25"/>
<line x1="243.7" y1="327.6" x2="246.9" y2="327.6" stroke="#000" stroke-width="1.1"/>
<text x="228.29" y="329.9" font-size="9" fill="#231f20" stroke="#231f20" xml:space="preserve" style="white-space:pre"><tspan x="228.29" dy="0">0.0</tspan></text>
<line x1="243.7" y1="298.7" x2="246.9" y2="298.7" stroke="#000" stroke-width="1.1"/>
<text x="228.29" y="301" font-size="9" fill="#231f20" stroke="#231f20" xml:space="preserve" style="white-space:pre"><tspan x="228.29" dy="0">0.5</tspan></text>
<line x1="243.7" y1="269.8" x2="246.9" y2="269.8" stroke="#000" stroke-width="1.1"/>
<text x="228.29" y="272.1" font-size="9" fill="#231f20" stroke="#231f20" xml:space="preserve" style="white-space:pre"><tspan x="228.29" dy="0">1.0</tspan></text>
<line x1="243.7" y1="240.9" x2="246.9" y2="240.9" stroke="#000" stroke-width="1.1"/>
<text x="228.29" y="243.19" font-size="9" fill="#231f20" stroke="#231f20" xml:space="preserve" style="white-space:pre"><tspan x="228.29" dy="0">1.5</tspan></text>
<text x="-52.22" y="0" font-size="10.8" fill="#231f20" stroke="#231f20" transform="translate(223.22 283.5) rotate(-90) scale(0.89 1)" xml:space="preserve" style="white-space:pre"><tspan x="-52.22" dy="0">Donor NK cells (x10</tspan><tspan x="43.82" dy="-3.9" font-size="8.64">5</tspan><tspan x="48.62" dy="3.9">)</tspan></text>
<line x1="254.3" y1="327.6" x2="254.3" y2="330.8" stroke="#000" stroke-width="1.1"/>
<line x1="268" y1="327.6" x2="268" y2="330.8" stroke="#000" stroke-width="1.1"/>
<line x1="282.2" y1="327.6" x2="282.2" y2="330.8" stroke="#000" stroke-width="1.1"/>
<line x1="296.4" y1="327.6" x2="296.4" y2="330.8" stroke="#000" stroke-width="1.1"/>
<rect x="249.5" y="285.98" width="9.6" height="41.62" fill="#fff" stroke="#34507f" stroke-width="1.1"/>
<rect x="263.2" y="327.02" width="9.6" height="0.58" fill="#fff" stroke="#34507f" stroke-width="1.1"/>
<rect x="277.6" y="320.66" width="9.2" height="6.94" fill="#fff" stroke="#a3cc86" stroke-width="1.1"/>
<rect x="291.6" y="327.02" width="9.6" height="0.58" fill="#fff" stroke="#6c5a80" stroke-width="1.1"/>
<circle cx="254.8" cy="272.11" r="2.7" fill="none" stroke="#1f3360" stroke-width="1.15"/>
<circle cx="250.3" cy="284.25" r="2.7" fill="none" stroke="#1f3360" stroke-width="1.15"/>
<circle cx="256.8" cy="287.72" r="2.7" fill="none" stroke="#1f3360" stroke-width="1.15"/>
<circle cx="254.3" cy="298.7" r="2.7" fill="none" stroke="#1f3360" stroke-width="1.15"/>
<circle cx="264" cy="327.02" r="2.9" fill="#27457e"/>
<circle cx="266.5" cy="327.02" r="2.9" fill="#27457e"/>
<circle cx="269.5" cy="327.02" r="2.9" fill="#27457e"/>
<circle cx="272" cy="327.02" r="2.9" fill="#27457e"/>
<path d="M282.2 314.39L284.7 310.04L279.7 310.04Z" stroke="#78b040" stroke-width="0.6" fill="#78b040" />
<path d="M282.2 324.21L284.7 319.86L279.7 319.86Z" stroke="#78b040" stroke-width="0.6" fill="#78b040" />
<path d="M282.2 326.52L284.7 322.17L279.7 322.17Z" stroke="#78b040" stroke-width="0.6" fill="#78b040" />
<path d="M292.9 324.42L295.5 327.02L292.9 329.62L290.3 327.02Z" stroke="#4a2870" stroke-width="0.5" fill="#4a2870" />
<path d="M295.2 324.42L297.8 327.02L295.2 329.62L292.6 327.02Z" stroke="#4a2870" stroke-width="0.5" fill="#4a2870" />
<path d="M297.6 324.42L300.2 327.02L297.6 329.62L295 327.02Z" stroke="#4a2870" stroke-width="0.5" fill="#4a2870" />
<path d="M299.9 324.42L302.5 327.02L299.9 329.62L297.3 327.02Z" stroke="#4a2870" stroke-width="0.5" fill="#4a2870" />
<line x1="254.3" y1="280.2" x2="254.3" y2="285.98" stroke="#000" stroke-width="1.1"/>
<line x1="251.8" y1="280.2" x2="256.8" y2="280.2" stroke="#000" stroke-width="1.1"/>
<line x1="282.2" y1="317.77" x2="282.2" y2="323.55" stroke="#1a3a10" stroke-width="1.1"/>
<line x1="279.95" y1="317.77" x2="284.45" y2="317.77" stroke="#1a3a10" stroke-width="1.1"/>
<circle cx="372.3" cy="194.4" r="2.7" fill="none" stroke="#1f3360" stroke-width="1.15"/>
<text x="380.2" y="197.32" font-size="8.35" fill="#231f20" stroke="#231f20" xml:space="preserve" style="white-space:pre"><tspan x="380.2" dy="0">B6 TCD BM </tspan><tspan x="435.26" dy="0"> B6D2F1</tspan></text>
<g><path d="M427.74 194.9L434.38 194.9" stroke="#231f20" stroke-width="0.96" fill="none"/><path d="M435.51 194.9L433.25 193.31L433.25 196.49Z" fill="#231f20"/></g>
<circle cx="372.3" cy="207.9" r="2.9" fill="#27457e"/>
<text x="380.2" y="210.82" font-size="8.35" fill="#231f20" stroke="#231f20" xml:space="preserve" style="white-space:pre"><tspan x="380.2" dy="0">B6 BM + T </tspan><tspan x="430.24" dy="0"> B6D2F1</tspan></text>
<g><path d="M422.73 208.4L429.37 208.4" stroke="#231f20" stroke-width="0.96" fill="none"/><path d="M430.49 208.4L428.24 206.81L428.24 209.99Z" fill="#231f20"/></g>
<text x="386.72" y="231.2" font-size="10.5" fill="#231f20" stroke="#231f20" xml:space="preserve" style="white-space:pre"><tspan x="386.72" dy="0">BM</tspan></text>
<text x="464.33" y="231.4" font-size="10.5" fill="#231f20" stroke="#231f20" xml:space="preserve" style="white-space:pre"><tspan x="464.33" dy="0">spleen</tspan></text>
<line x1="374.7" y1="327.7" x2="374.7" y2="246.5" stroke="#000" stroke-width="1.25"/>
<line x1="374.1" y1="327.7" x2="414.8" y2="327.7" stroke="#000" stroke-width="1.25"/>
<line x1="371.5" y1="327.7" x2="374.7" y2="327.7" stroke="#000" stroke-width="1.1"/>
<text x="354.89" y="330" font-size="9" fill="#231f20" stroke="#231f20" xml:space="preserve" style="white-space:pre"><tspan x="354.89" dy="0">0.0</tspan></text>
<line x1="371.5" y1="301.63" x2="374.7" y2="301.63" stroke="#000" stroke-width="1.1"/>
<text x="354.89" y="303.93" font-size="9" fill="#231f20" stroke="#231f20" xml:space="preserve" style="white-space:pre"><tspan x="354.89" dy="0">0.5</tspan></text>
<line x1="371.5" y1="275.57" x2="374.7" y2="275.57" stroke="#000" stroke-width="1.1"/>
<text x="354.89" y="277.86" font-size="9" fill="#231f20" stroke="#231f20" xml:space="preserve" style="white-space:pre"><tspan x="354.89" dy="0">1.0</tspan></text>
<line x1="371.5" y1="249.5" x2="374.7" y2="249.5" stroke="#000" stroke-width="1.1"/>
<text x="354.89" y="251.79" font-size="9" fill="#231f20" stroke="#231f20" xml:space="preserve" style="white-space:pre"><tspan x="354.89" dy="0">1.5</tspan></text>
<text x="-52.22" y="0" font-size="10.8" fill="#231f20" stroke="#231f20" transform="translate(350.52 286.6) rotate(-90) scale(0.89 1)" xml:space="preserve" style="white-space:pre"><tspan x="-52.22" dy="0">Donor NK cells (x10</tspan><tspan x="43.82" dy="-3.9" font-size="8.64">5</tspan><tspan x="48.62" dy="3.9">)</tspan></text>
<line x1="385" y1="327.7" x2="385" y2="330.9" stroke="#000" stroke-width="1.1"/>
<line x1="404.8" y1="327.7" x2="404.8" y2="330.9" stroke="#000" stroke-width="1.1"/>
<rect x="378.7" y="289.12" width="12.6" height="38.58" fill="#fff" stroke="#34507f" stroke-width="1.1"/>
<rect x="398.5" y="315.71" width="12.6" height="11.99" fill="#fff" stroke="#34507f" stroke-width="1.1"/>
<circle cx="385" cy="262.53" r="2.7" fill="none" stroke="#1f3360" stroke-width="1.15"/>
<circle cx="385" cy="268.27" r="2.7" fill="none" stroke="#1f3360" stroke-width="1.15"/>
<circle cx="388.5" cy="280.78" r="2.7" fill="none" stroke="#1f3360" stroke-width="1.15"/>
<circle cx="382" cy="284.95" r="2.7" fill="none" stroke="#1f3360" stroke-width="1.15"/>
<circle cx="386" cy="287.04" r="2.7" fill="none" stroke="#1f3360" stroke-width="1.15"/>
<circle cx="389" cy="291.21" r="2.7" fill="none" stroke="#1f3360" stroke-width="1.15"/>
<circle cx="383" cy="295.38" r="2.7" fill="none" stroke="#1f3360" stroke-width="1.15"/>
<circle cx="381" cy="299.03" r="2.7" fill="none" stroke="#1f3360" stroke-width="1.15"/>
<circle cx="388.5" cy="300.59" r="2.7" fill="none" stroke="#1f3360" stroke-width="1.15"/>
<circle cx="385" cy="301.63" r="2.7" fill="none" stroke="#1f3360" stroke-width="1.15"/>
<circle cx="404.8" cy="290.16" r="2.9" fill="#27457e"/>
<circle cx="400.8" cy="300.59" r="2.9" fill="#27457e"/>
<circle cx="409.8" cy="301.63" r="2.9" fill="#27457e"/>
<circle cx="407.8" cy="305.8" r="2.9" fill="#27457e"/>
<circle cx="400.8" cy="312.06" r="2.9" fill="#27457e"/>
<circle cx="406.8" cy="314.15" r="2.9" fill="#27457e"/>
<circle cx="403.8" cy="316.23" r="2.9" fill="#27457e"/>
<circle cx="408.8" cy="318.32" r="2.9" fill="#27457e"/>
<circle cx="401.8" cy="320.4" r="2.9" fill="#27457e"/>
<circle cx="405.8" cy="322.49" r="2.9" fill="#27457e"/>
<circle cx="400.8" cy="324.57" r="2.9" fill="#27457e"/>
<circle cx="408.8" cy="325.61" r="2.9" fill="#27457e"/>
<circle cx="404.8" cy="326.14" r="2.9" fill="#27457e"/>
<line x1="385" y1="284.43" x2="385" y2="289.12" stroke="#000" stroke-width="1.1"/>
<line x1="382.5" y1="284.43" x2="387.5" y2="284.43" stroke="#000" stroke-width="1.1"/>
<line x1="404.8" y1="313.1" x2="404.8" y2="315.71" stroke="#000" stroke-width="1.1"/>
<line x1="402.3" y1="313.1" x2="407.3" y2="313.1" stroke="#000" stroke-width="1.1"/>
<path d="M381.5 257.1L381.5 253.3L407.5 253.3L407.5 257.1" stroke="#000" stroke-width="1.15" fill="none" />
<circle cx="388.8" cy="249.3" r="1.15" fill="#111"/>
<circle cx="392.6" cy="249.3" r="1.15" fill="#111"/>
<circle cx="396.4" cy="249.3" r="1.15" fill="#111"/>
<circle cx="400.2" cy="249.3" r="1.15" fill="#111"/>
<line x1="459.8" y1="327.9" x2="459.8" y2="238.5" stroke="#000" stroke-width="1.25"/>
<line x1="459.2" y1="327.9" x2="500.2" y2="327.9" stroke="#000" stroke-width="1.25"/>
<line x1="456.6" y1="327.9" x2="459.8" y2="327.9" stroke="#000" stroke-width="1.1"/>
<text x="446.09" y="331.09" font-size="9" fill="#231f20" stroke="#231f20" xml:space="preserve" style="white-space:pre"><tspan x="446.09" dy="0">0</tspan></text>
<line x1="456.6" y1="306.3" x2="459.8" y2="306.3" stroke="#000" stroke-width="1.1"/>
<text x="446.09" y="309.49" font-size="9" fill="#231f20" stroke="#231f20" xml:space="preserve" style="white-space:pre"><tspan x="446.09" dy="0">5</tspan></text>
<line x1="456.6" y1="284.7" x2="459.8" y2="284.7" stroke="#000" stroke-width="1.1"/>
<text x="441.09" y="287.89" font-size="9" fill="#231f20" stroke="#231f20" xml:space="preserve" style="white-space:pre"><tspan x="441.09" dy="0">10</tspan></text>
<line x1="456.6" y1="263.1" x2="459.8" y2="263.1" stroke="#000" stroke-width="1.1"/>
<text x="441.09" y="266.3" font-size="9" fill="#231f20" stroke="#231f20" xml:space="preserve" style="white-space:pre"><tspan x="441.09" dy="0">15</tspan></text>
<line x1="456.6" y1="241.5" x2="459.8" y2="241.5" stroke="#000" stroke-width="1.1"/>
<text x="441.09" y="244.69" font-size="9" fill="#231f20" stroke="#231f20" xml:space="preserve" style="white-space:pre"><tspan x="441.09" dy="0">20</tspan></text>
<text x="-52.22" y="0" font-size="10.8" fill="#231f20" stroke="#231f20" transform="translate(434.82 286.6) rotate(-90) scale(0.89 1)" xml:space="preserve" style="white-space:pre"><tspan x="-52.22" dy="0">Donor NK cells (x10</tspan><tspan x="43.82" dy="-3.9" font-size="8.64">5</tspan><tspan x="48.62" dy="3.9">)</tspan></text>
<line x1="469.9" y1="327.9" x2="469.9" y2="331.1" stroke="#000" stroke-width="1.1"/>
<line x1="490.4" y1="327.9" x2="490.4" y2="331.1" stroke="#000" stroke-width="1.1"/>
<rect x="463.1" y="286" width="13.6" height="41.9" fill="#fff" stroke="#34507f" stroke-width="1.1"/>
<rect x="484.1" y="325.31" width="12.6" height="2.59" fill="#fff" stroke="#34507f" stroke-width="1.1"/>
<circle cx="466.9" cy="259.21" r="2.7" fill="none" stroke="#1f3360" stroke-width="1.15"/>
<circle cx="472.9" cy="259.21" r="2.7" fill="none" stroke="#1f3360" stroke-width="1.15"/>
<circle cx="466.9" cy="282.54" r="2.7" fill="none" stroke="#1f3360" stroke-width="1.15"/>
<circle cx="472.9" cy="282.54" r="2.7" fill="none" stroke="#1f3360" stroke-width="1.15"/>
<circle cx="469.9" cy="286.43" r="2.7" fill="none" stroke="#1f3360" stroke-width="1.15"/>
<circle cx="471.4" cy="289.02" r="2.7" fill="none" stroke="#1f3360" stroke-width="1.15"/>
<circle cx="466.9" cy="297.66" r="2.7" fill="none" stroke="#1f3360" stroke-width="1.15"/>
<circle cx="472.9" cy="297.66" r="2.7" fill="none" stroke="#1f3360" stroke-width="1.15"/>
<circle cx="469.9" cy="306.3" r="2.7" fill="none" stroke="#1f3360" stroke-width="1.15"/>
<circle cx="486.9" cy="311.92" r="2.9" fill="#27457e"/>
<circle cx="493.9" cy="318.4" r="2.9" fill="#27457e"/>
<circle cx="487.4" cy="323.58" r="2.9" fill="#27457e"/>
<circle cx="491.9" cy="324.01" r="2.9" fill="#27457e"/>
<circle cx="489.4" cy="325.74" r="2.9" fill="#27457e"/>
<circle cx="493.4" cy="326.6" r="2.9" fill="#27457e"/>
<circle cx="485.9" cy="327.04" r="2.9" fill="#27457e"/>
<circle cx="490.9" cy="327.04" r="2.9" fill="#27457e"/>
<circle cx="488.4" cy="327.47" r="2.9" fill="#27457e"/>
<path d="M466.4 253.7L466.4 250.5L490.6 250.5L490.6 253.7" stroke="#000" stroke-width="1.15" fill="none" />
<circle cx="472.8" cy="246.5" r="1.15" fill="#111"/>
<circle cx="476.6" cy="246.5" r="1.15" fill="#111"/>
<circle cx="480.4" cy="246.5" r="1.15" fill="#111"/>
<circle cx="484.2" cy="246.5" r="1.15" fill="#111"/>
<text x="0" y="0" font-size="13.6" font-weight="bold" fill="#000" stroke="#000" transform="translate(7.9 358.6) scale(0.9 1)" xml:space="preserve" style="white-space:pre"><tspan x="0" dy="0">C</tspan></text>
<line x1="73.3" y1="454.7" x2="73.3" y2="363.8" stroke="#000" stroke-width="1.25"/>
<line x1="72.7" y1="454.7" x2="246" y2="454.7" stroke="#000" stroke-width="1.25"/>
<line x1="70.1" y1="454.7" x2="73.3" y2="454.7" stroke="#000" stroke-width="1.1"/>
<text x="53.89" y="457" font-size="9" fill="#231f20" stroke="#231f20" xml:space="preserve" style="white-space:pre"><tspan x="53.89" dy="0">0.0</tspan></text>
<line x1="70.1" y1="425.4" x2="73.3" y2="425.4" stroke="#000" stroke-width="1.1"/>
<text x="53.89" y="427.69" font-size="9" fill="#231f20" stroke="#231f20" xml:space="preserve" style="white-space:pre"><tspan x="53.89" dy="0">0.5</tspan></text>
<line x1="70.1" y1="396.1" x2="73.3" y2="396.1" stroke="#000" stroke-width="1.1"/>
<text x="53.89" y="398.4" font-size="9" fill="#231f20" stroke="#231f20" xml:space="preserve" style="white-space:pre"><tspan x="53.89" dy="0">1.0</tspan></text>
<line x1="70.1" y1="366.8" x2="73.3" y2="366.8" stroke="#000" stroke-width="1.1"/>
<text x="53.89" y="369.1" font-size="9" fill="#231f20" stroke="#231f20" xml:space="preserve" style="white-space:pre"><tspan x="53.89" dy="0">1.5</tspan></text>
<text x="-35.34" y="0" font-size="10.69" fill="#231f20" stroke="#231f20" transform="translate(35.58 411.2) rotate(-90) scale(0.89 1)" xml:space="preserve" style="white-space:pre"><tspan x="-35.34" dy="0">BM - donor NK</tspan></text>
<text x="-26.73" y="0" font-size="10.69" fill="#231f20" stroke="#231f20" transform="translate(48.28 411) rotate(-90) scale(0.89 1)" xml:space="preserve" style="white-space:pre"><tspan x="-26.73" dy="0">cells (x10</tspan><tspan x="18.41" dy="-3.9" font-size="8.55">5</tspan><tspan x="23.17" dy="3.9">)</tspan></text>
<line x1="85.4" y1="454.5" x2="85.4" y2="457.7" stroke="#000" stroke-width="1.1"/>
<line x1="110.02" y1="454.5" x2="110.02" y2="457.7" stroke="#000" stroke-width="1.1"/>
<line x1="134.64" y1="454.5" x2="134.64" y2="457.7" stroke="#000" stroke-width="1.1"/>
<line x1="159.26" y1="454.5" x2="159.26" y2="457.7" stroke="#000" stroke-width="1.1"/>
<line x1="183.88" y1="454.5" x2="183.88" y2="457.7" stroke="#000" stroke-width="1.1"/>
<line x1="208.5" y1="454.5" x2="208.5" y2="457.7" stroke="#000" stroke-width="1.1"/>
<line x1="233.12" y1="454.5" x2="233.12" y2="457.7" stroke="#000" stroke-width="1.1"/>
<line x1="85.4" y1="386.43" x2="85.4" y2="391.41" stroke="#111" stroke-width="1.2"/>
<line x1="81.65" y1="386.43" x2="89.15" y2="386.43" stroke="#111" stroke-width="1.2"/>
<rect x="78" y="391.41" width="14.8" height="63.29" fill="#b0062f" stroke="#8a0a2a" stroke-width="1"/>
<line x1="110.02" y1="447.96" x2="110.02" y2="449.43" stroke="#111" stroke-width="1.2"/>
<line x1="106.27" y1="447.96" x2="113.77" y2="447.96" stroke="#111" stroke-width="1.2"/>
<rect x="102.62" y="449.43" width="14.8" height="5.27" fill="#2c4f8c" stroke="#17305e" stroke-width="1"/>
<line x1="134.64" y1="454" x2="134.64" y2="454.52" stroke="#111" stroke-width="1.2"/>
<line x1="130.89" y1="454" x2="138.39" y2="454" stroke="#111" stroke-width="1.2"/>
<rect x="127.24" y="454.52" width="14.8" height="0.18" fill="#4d8a3a" stroke="#24461c" stroke-width="1"/>
<line x1="159.26" y1="448.84" x2="159.26" y2="450.6" stroke="#111" stroke-width="1.2"/>
<line x1="155.51" y1="448.84" x2="163.01" y2="448.84" stroke="#111" stroke-width="1.2"/>
<rect x="151.86" y="450.6" width="14.8" height="4.1" fill="#4a2470" stroke="#2e1048" stroke-width="1"/>
<line x1="183.88" y1="442.39" x2="183.88" y2="445.32" stroke="#111" stroke-width="1.2"/>
<line x1="180.13" y1="442.39" x2="187.63" y2="442.39" stroke="#111" stroke-width="1.2"/>
<rect x="176.48" y="445.32" width="14.8" height="9.38" fill="#e9a127" stroke="#b97a12" stroke-width="1"/>
<line x1="208.5" y1="448.84" x2="208.5" y2="450.6" stroke="#111" stroke-width="1.2"/>
<line x1="204.75" y1="448.84" x2="212.25" y2="448.84" stroke="#111" stroke-width="1.2"/>
<rect x="201.1" y="450.6" width="14.8" height="4.1" fill="#2f6b52" stroke="#1c4a36" stroke-width="1"/>
<circle cx="106.22" cy="441.8" r="1.15" fill="#111"/>
<circle cx="110.02" cy="441.8" r="1.15" fill="#111"/>
<circle cx="113.82" cy="441.8" r="1.15" fill="#111"/>
<circle cx="130.84" cy="447.6" r="1.15" fill="#111"/>
<circle cx="134.64" cy="447.6" r="1.15" fill="#111"/>
<circle cx="138.44" cy="447.6" r="1.15" fill="#111"/>
<circle cx="157.36" cy="442.6" r="1.15" fill="#111"/>
<circle cx="161.16" cy="442.6" r="1.15" fill="#111"/>
<text x="179.34" y="437.4" font-size="8.6" fill="#231f20" stroke="#231f20" xml:space="preserve" style="white-space:pre"><tspan x="179.34" dy="0">ns</tspan></text>
<circle cx="208.5" cy="443.8" r="1.15" fill="#111"/>
<circle cx="227.42" cy="451.2" r="1.15" fill="#111"/>
<circle cx="231.22" cy="451.2" r="1.15" fill="#111"/>
<circle cx="235.02" cy="451.2" r="1.15" fill="#111"/>
<circle cx="238.82" cy="451.2" r="1.15" fill="#111"/>
<line x1="73.1" y1="560" x2="73.1" y2="502.4" stroke="#000" stroke-width="1.25"/>
<line x1="73.1" y1="497" x2="73.1" y2="473" stroke="#000" stroke-width="1.25"/>
<line x1="72.5" y1="560" x2="236.6" y2="560" stroke="#000" stroke-width="1.25"/>
<line x1="69.8" y1="502.4" x2="76.4" y2="502.4" stroke="#000" stroke-width="1.1"/>
<line x1="69.8" y1="497" x2="76.4" y2="497" stroke="#000" stroke-width="1.1"/>
<line x1="69.9" y1="560" x2="73.1" y2="560" stroke="#000" stroke-width="1.1"/>
<text x="61.09" y="562.29" font-size="9" fill="#231f20" stroke="#231f20" xml:space="preserve" style="white-space:pre"><tspan x="61.09" dy="0">0</tspan></text>
<line x1="69.9" y1="545.6" x2="73.1" y2="545.6" stroke="#000" stroke-width="1.1"/>
<text x="61.09" y="547.89" font-size="9" fill="#231f20" stroke="#231f20" xml:space="preserve" style="white-space:pre"><tspan x="61.09" dy="0">1</tspan></text>
<line x1="69.9" y1="531.2" x2="73.1" y2="531.2" stroke="#000" stroke-width="1.1"/>
<text x="61.09" y="533.5" font-size="9" fill="#231f20" stroke="#231f20" xml:space="preserve" style="white-space:pre"><tspan x="61.09" dy="0">2</tspan></text>
<line x1="69.9" y1="516.8" x2="73.1" y2="516.8" stroke="#000" stroke-width="1.1"/>
<text x="61.09" y="519.09" font-size="9" fill="#231f20" stroke="#231f20" xml:space="preserve" style="white-space:pre"><tspan x="61.09" dy="0">3</tspan></text>
<line x1="69.9" y1="502.4" x2="73.1" y2="502.4" stroke="#000" stroke-width="1.1"/>
<text x="61.09" y="504.69" font-size="9" fill="#231f20" stroke="#231f20" xml:space="preserve" style="white-space:pre"><tspan x="61.09" dy="0">4</tspan></text>
<line x1="69.9" y1="497" x2="73.1" y2="497" stroke="#000" stroke-width="1.1"/>
<text x="56.09" y="496.9" font-size="9" fill="#231f20" stroke="#231f20" xml:space="preserve" style="white-space:pre"><tspan x="56.09" dy="0">20</tspan></text>
<line x1="69.9" y1="486.5" x2="73.1" y2="486.5" stroke="#000" stroke-width="1.1"/>
<text x="56.09" y="488.8" font-size="9" fill="#231f20" stroke="#231f20" xml:space="preserve" style="white-space:pre"><tspan x="56.09" dy="0">30</tspan></text>
<line x1="69.9" y1="476" x2="73.1" y2="476" stroke="#000" stroke-width="1.1"/>
<text x="56.09" y="478.3" font-size="9" fill="#231f20" stroke="#231f20" xml:space="preserve" style="white-space:pre"><tspan x="56.09" dy="0">40</tspan></text>
<text x="-43.96" y="0" font-size="10.69" fill="#231f20" stroke="#231f20" transform="translate(38.18 518.2) rotate(-90) scale(0.89 1)" xml:space="preserve" style="white-space:pre"><tspan x="-43.96" dy="0">Spleen - donor NK</tspan></text>
<text x="-26.73" y="0" font-size="10.69" fill="#231f20" stroke="#231f20" transform="translate(51.38 517.7) rotate(-90) scale(0.89 1)" xml:space="preserve" style="white-space:pre"><tspan x="-26.73" dy="0">cells (x10</tspan><tspan x="18.41" dy="-3.9" font-size="8.55">5</tspan><tspan x="23.17" dy="3.9">)</tspan></text>
<line x1="84.6" y1="560" x2="84.6" y2="563.2" stroke="#000" stroke-width="1.1"/>
<line x1="107.87" y1="560" x2="107.87" y2="563.2" stroke="#000" stroke-width="1.1"/>
<line x1="131.14" y1="560" x2="131.14" y2="563.2" stroke="#000" stroke-width="1.1"/>
<line x1="154.41" y1="560" x2="154.41" y2="563.2" stroke="#000" stroke-width="1.1"/>
<line x1="177.68" y1="560" x2="177.68" y2="563.2" stroke="#000" stroke-width="1.1"/>
<line x1="200.95" y1="560" x2="200.95" y2="563.2" stroke="#000" stroke-width="1.1"/>
<line x1="224.22" y1="560" x2="224.22" y2="563.2" stroke="#000" stroke-width="1.1"/>
<line x1="84.6" y1="487.9" x2="84.6" y2="492" stroke="#111" stroke-width="1.2"/>
<line x1="80.85" y1="487.9" x2="88.35" y2="487.9" stroke="#111" stroke-width="1.2"/>
<rect x="77.6" y="492.2" width="14" height="3.7" fill="#b0062f" stroke="#8a0a2a" stroke-width="1"/>
<rect x="77.6" y="503.5" width="14" height="56.5" fill="#b0062f" stroke="#8a0a2a" stroke-width="1"/>
<line x1="107.87" y1="552.08" x2="107.87" y2="554.67" stroke="#111" stroke-width="1.2"/>
<line x1="104.37" y1="552.08" x2="111.37" y2="552.08" stroke="#111" stroke-width="1.2"/>
<rect x="100.67" y="554.67" width="14.4" height="5.33" fill="#2c4f8c" stroke="#17305e" stroke-width="1"/>
<line x1="131.14" y1="558.56" x2="131.14" y2="558.99" stroke="#111" stroke-width="1.2"/>
<line x1="127.64" y1="558.56" x2="134.64" y2="558.56" stroke="#111" stroke-width="1.2"/>
<rect x="123.94" y="558.99" width="14.4" height="1.01" fill="#4d8a3a" stroke="#24461c" stroke-width="1"/>
<line x1="154.41" y1="555.39" x2="154.41" y2="556.83" stroke="#111" stroke-width="1.2"/>
<line x1="150.91" y1="555.39" x2="157.91" y2="555.39" stroke="#111" stroke-width="1.2"/>
<rect x="147.21" y="556.83" width="14.4" height="3.17" fill="#4a2470" stroke="#2e1048" stroke-width="1"/>
<line x1="177.68" y1="552.51" x2="177.68" y2="553.52" stroke="#111" stroke-width="1.2"/>
<line x1="174.18" y1="552.51" x2="181.18" y2="552.51" stroke="#111" stroke-width="1.2"/>
<rect x="170.48" y="553.52" width="14.4" height="6.48" fill="#e9a127" stroke="#b97a12" stroke-width="1"/>
<line x1="200.95" y1="518.82" x2="200.95" y2="529.76" stroke="#111" stroke-width="1.2"/>
<line x1="197.45" y1="518.82" x2="204.45" y2="518.82" stroke="#111" stroke-width="1.2"/>
<rect x="193.75" y="529.76" width="14.4" height="30.24" fill="#2f6b52" stroke="#1c4a36" stroke-width="1"/>
<circle cx="102.17" cy="547" r="1.15" fill="#111"/>
<circle cx="105.97" cy="547" r="1.15" fill="#111"/>
<circle cx="109.77" cy="547" r="1.15" fill="#111"/>
<circle cx="113.57" cy="547" r="1.15" fill="#111"/>
<circle cx="127.34" cy="552.8" r="1.15" fill="#111"/>
<circle cx="131.14" cy="552.8" r="1.15" fill="#111"/>
<circle cx="134.94" cy="552.8" r="1.15" fill="#111"/>
<circle cx="152.51" cy="551" r="1.15" fill="#111"/>
<circle cx="156.31" cy="551" r="1.15" fill="#111"/>
<text x="173.14" y="550" font-size="8.6" fill="#231f20" stroke="#231f20" xml:space="preserve" style="white-space:pre"><tspan x="173.14" dy="0">ns</tspan></text>
<text x="196.41" y="517" font-size="8.6" fill="#231f20" stroke="#231f20" xml:space="preserve" style="white-space:pre"><tspan x="196.41" dy="0">ns</tspan></text>
<circle cx="218.52" cy="554.6" r="1.15" fill="#111"/>
<circle cx="222.32" cy="554.6" r="1.15" fill="#111"/>
<circle cx="226.12" cy="554.6" r="1.15" fill="#111"/>
<circle cx="229.92" cy="554.6" r="1.15" fill="#111"/>
<text x="-5.47" y="570.8" font-size="9.2" fill="#231f20" stroke="#231f20" transform="rotate(-45 91.5 570.8)" xml:space="preserve" style="white-space:pre"><tspan x="-5.47" dy="0">B6 TCD BM </tspan><tspan x="55.19" dy="0"> B6D2F1</tspan></text>
<g transform="rotate(-45 91.5 570.8)"><path d="M46.91 568.13L54.23 568.13" stroke="#231f20" stroke-width="1.06" fill="none"/><path d="M55.47 568.13L52.99 566.38L52.99 569.88Z" fill="#231f20"/></g>
<text x="7.05" y="575" font-size="9.2" fill="#231f20" stroke="#231f20" transform="rotate(-45 112.3 575)" xml:space="preserve" style="white-space:pre"><tspan x="7.05" dy="0">B6 BM + B6 T </tspan><tspan x="75.99" dy="0"> B6D2F1</tspan></text>
<g transform="rotate(-45 112.3 575)"><path d="M67.71 572.33L75.03 572.33" stroke="#231f20" stroke-width="1.06" fill="none"/><path d="M76.27 572.33L73.79 570.58L73.79 574.08Z" fill="#231f20"/></g>
<text x="9.4" y="577.7" font-size="9.2" fill="#231f20" stroke="#231f20" transform="rotate(-45 136.4 577.7)" xml:space="preserve" style="white-space:pre"><tspan x="9.4" dy="0">IL-21R</tspan><tspan x="37.02" dy="-3.2" font-size="5.7">-/-</tspan><tspan x="42.4" dy="3.2"> BM + B6 T </tspan><tspan x="100.09" dy="0"> B6D2F1</tspan></text>
<g transform="rotate(-45 136.4 577.7)"><path d="M91.81 575.03L99.13 575.03" stroke="#231f20" stroke-width="1.06" fill="none"/><path d="M100.37 575.03L97.89 573.28L97.89 576.78Z" fill="#231f20"/></g>
<text x="34.35" y="576.7" font-size="9.2" fill="#231f20" stroke="#231f20" transform="rotate(-45 159.8 576.7)" xml:space="preserve" style="white-space:pre"><tspan x="34.35" dy="0">IFNγR</tspan><tspan x="60.42" dy="-3.2" font-size="5.7">-/-</tspan><tspan x="65.8" dy="3.2"> BM + B6 T </tspan><tspan x="123.49" dy="0"> B6D2F1</tspan></text>
<g transform="rotate(-45 159.8 576.7)"><path d="M115.21 574.03L122.53 574.03" stroke="#231f20" stroke-width="1.06" fill="none"/><path d="M123.77 574.03L121.29 572.28L121.29 575.78Z" fill="#231f20"/></g>
<text x="57.13" y="578.3" font-size="9.2" fill="#231f20" stroke="#231f20" transform="rotate(-45 183.3 578.3)" xml:space="preserve" style="white-space:pre"><tspan x="57.13" dy="0">IFNαR</tspan><tspan x="83.92" dy="-3.2" font-size="5.7">-/-</tspan><tspan x="89.3" dy="3.2"> BM + B6 T </tspan><tspan x="146.99" dy="0"> B6D2F1</tspan></text>
<g transform="rotate(-45 183.3 578.3)"><path d="M138.71 575.63L146.03 575.63" stroke="#231f20" stroke-width="1.06" fill="none"/><path d="M147.27 575.63L144.79 573.88L144.79 577.38Z" fill="#231f20"/></g>
<text x="72.07" y="576.6" font-size="9.2" fill="#231f20" stroke="#231f20" transform="rotate(-45 206.2 576.6)" xml:space="preserve" style="white-space:pre"><tspan x="72.07" dy="0">TNFRI/II</tspan><tspan x="106.82" dy="-3.2" font-size="5.7">-/-</tspan><tspan x="112.2" dy="3.2"> BM + B6 T </tspan><tspan x="169.89" dy="0"> B6D2F1</tspan></text>
<g transform="rotate(-45 206.2 576.6)"><path d="M161.61 573.93L168.93 573.93" stroke="#231f20" stroke-width="1.06" fill="none"/><path d="M170.17 573.93L167.69 572.18L167.69 575.68Z" fill="#231f20"/></g>
<text x="56.72" y="576.6" font-size="9.2" fill="#231f20" stroke="#231f20" transform="rotate(-45 230.1 576.6)" xml:space="preserve" style="white-space:pre"><tspan x="56.72" dy="0">NKp46</tspan><tspan x="84.85" dy="-3.2" font-size="5.7">cre+</tspan><tspan x="96.1" dy="3.2">.TGFRII</tspan><tspan x="128.81" dy="-3.2" font-size="5.7">fl/fl</tspan><tspan x="136.1" dy="3.2"> BM + B6 T </tspan><tspan x="193.79" dy="0"> B6D2F1</tspan></text>
<g transform="rotate(-45 230.1 576.6)"><path d="M185.51 573.93L192.83 573.93" stroke="#231f20" stroke-width="1.06" fill="none"/><path d="M194.07 573.93L191.59 572.18L191.59 575.68Z" fill="#231f20"/></g>
<text x="0" y="0" font-size="13.6" font-weight="bold" fill="#000" stroke="#000" transform="translate(273.1 358.7) scale(0.9 1)" xml:space="preserve" style="white-space:pre"><tspan x="0" dy="0">E</tspan></text>
<path d="M334.5 364.43L337.65 369.91L331.35 369.91Z" stroke="#b50d38" stroke-width="0.6" fill="#b50d38" />
<text x="342.2" y="369.91" font-size="8.6" fill="#231f20" stroke="#231f20" xml:space="preserve" style="white-space:pre"><tspan x="342.2" dy="0">B6 BM + B6 T </tspan><tspan x="406.65" dy="0"> B6</tspan></text>
<g><path d="M398.91 367.42L405.75 367.42" stroke="#231f20" stroke-width="0.99" fill="none"/><path d="M406.91 367.42L404.59 365.78L404.59 369.05Z" fill="#231f20"/></g>
<path d="M334.5 375.73L337.65 381.21L331.35 381.21Z" stroke="#6e1532" stroke-width="1.3" fill="none" stroke-linejoin="miter"/>
<text x="342.2" y="381.21" font-size="8.6" fill="#231f20" stroke="#231f20" xml:space="preserve" style="white-space:pre"><tspan x="342.2" dy="0">B6 BM + IL-15Rα</tspan><tspan x="408.59" dy="-3.2" font-size="6.19">-/-</tspan><tspan x="414.44" dy="3.2"> T </tspan><tspan x="432.76" dy="0"> B6</tspan></text>
<g><path d="M425.02 378.72L431.86 378.72" stroke="#231f20" stroke-width="0.99" fill="none"/><path d="M433.02 378.72L430.7 377.08L430.7 380.35Z" fill="#231f20"/></g>
<circle cx="334.5" cy="389.6" r="2.9" fill="#27457e"/>
<text x="342.2" y="392.61" font-size="8.6" fill="#231f20" stroke="#231f20" xml:space="preserve" style="white-space:pre"><tspan x="342.2" dy="0">B6 BM + B6 T </tspan><tspan x="406.65" dy="0"> B6D2F1</tspan></text>
<g><path d="M398.91 390.12L405.75 390.12" stroke="#231f20" stroke-width="0.99" fill="none"/><path d="M406.91 390.12L404.59 388.48L404.59 391.75Z" fill="#231f20"/></g>
<circle cx="334.5" cy="401.6" r="2.7" fill="none" stroke="#1f3360" stroke-width="1.15"/>
<text x="342.2" y="404.61" font-size="8.6" fill="#231f20" stroke="#231f20" xml:space="preserve" style="white-space:pre"><tspan x="342.2" dy="0">B6 BM + IL-15Rα</tspan><tspan x="408.59" dy="-3.2" font-size="6.19">-/-</tspan><tspan x="414.44" dy="3.2"> T </tspan><tspan x="432.76" dy="0"> B6D2F1</tspan></text>
<g><path d="M425.02 402.12L431.86 402.12" stroke="#231f20" stroke-width="0.99" fill="none"/><path d="M433.02 402.12L430.7 400.48L430.7 403.75Z" fill="#231f20"/></g>
<line x1="335.1" y1="507.4" x2="335.1" y2="467" stroke="#000" stroke-width="1.25"/>
<line x1="335.1" y1="460" x2="335.1" y2="417.1" stroke="#000" stroke-width="1.25"/>
<line x1="334.5" y1="507.4" x2="393.3" y2="507.4" stroke="#000" stroke-width="1.25"/>
<line x1="331.7" y1="467" x2="338.5" y2="467" stroke="#000" stroke-width="1.1"/>
<line x1="331.7" y1="460" x2="338.5" y2="460" stroke="#000" stroke-width="1.1"/>
<line x1="331.9" y1="507.4" x2="335.1" y2="507.4" stroke="#000" stroke-width="1.1"/>
<text x="310.58" y="509.69" font-size="9" fill="#231f20" stroke="#231f20" xml:space="preserve" style="white-space:pre"><tspan x="310.58" dy="0">0.00</tspan></text>
<line x1="331.9" y1="487.2" x2="335.1" y2="487.2" stroke="#000" stroke-width="1.1"/>
<text x="310.58" y="489.5" font-size="9" fill="#231f20" stroke="#231f20" xml:space="preserve" style="white-space:pre"><tspan x="310.58" dy="0">0.25</tspan></text>
<line x1="331.9" y1="467" x2="335.1" y2="467" stroke="#000" stroke-width="1.1"/>
<text x="310.58" y="469.3" font-size="9" fill="#231f20" stroke="#231f20" xml:space="preserve" style="white-space:pre"><tspan x="310.58" dy="0">0.50</tspan></text>
<line x1="331.9" y1="460" x2="335.1" y2="460" stroke="#000" stroke-width="1.1"/>
<text x="323.09" y="462.3" font-size="9" fill="#231f20" stroke="#231f20" xml:space="preserve" style="white-space:pre"><tspan x="323.09" dy="0">1</tspan></text>
<line x1="331.9" y1="446.7" x2="335.1" y2="446.7" stroke="#000" stroke-width="1.1"/>
<text x="323.09" y="449" font-size="9" fill="#231f20" stroke="#231f20" xml:space="preserve" style="white-space:pre"><tspan x="323.09" dy="0">2</tspan></text>
<line x1="331.9" y1="433.4" x2="335.1" y2="433.4" stroke="#000" stroke-width="1.1"/>
<text x="323.09" y="435.7" font-size="9" fill="#231f20" stroke="#231f20" xml:space="preserve" style="white-space:pre"><tspan x="323.09" dy="0">3</tspan></text>
<line x1="331.9" y1="420.1" x2="335.1" y2="420.1" stroke="#000" stroke-width="1.1"/>
<text x="323.09" y="422.4" font-size="9" fill="#231f20" stroke="#231f20" xml:space="preserve" style="white-space:pre"><tspan x="323.09" dy="0">4</tspan></text>
<text x="-8.1" y="0" font-size="10.8" fill="#231f20" stroke="#231f20" transform="translate(291.22 463.8) rotate(-90) scale(0.89 1)" xml:space="preserve" style="white-space:pre"><tspan x="-8.1" dy="0">BM</tspan></text>
<text x="-51.32" y="0" font-size="10.8" fill="#231f20" stroke="#231f20" transform="translate(304.82 465) rotate(-90) scale(0.89 1)" xml:space="preserve" style="white-space:pre"><tspan x="-51.32" dy="0">donor NK cells (x10</tspan><tspan x="42.92" dy="-3.9" font-size="8.64">5</tspan><tspan x="47.73" dy="3.9">)</tspan></text>
<line x1="342.4" y1="507.4" x2="342.4" y2="510.6" stroke="#000" stroke-width="1.1"/>
<line x1="356.9" y1="507.4" x2="356.9" y2="510.6" stroke="#000" stroke-width="1.1"/>
<line x1="371.5" y1="507.4" x2="371.5" y2="510.6" stroke="#000" stroke-width="1.1"/>
<line x1="385.9" y1="507.4" x2="385.9" y2="510.6" stroke="#000" stroke-width="1.1"/>
<rect x="337.7" y="492.86" width="9.4" height="14.54" fill="#fff" stroke="#7e1d3b" stroke-width="1.1"/>
<rect x="352.4" y="450.5" width="9" height="10.2" fill="#b3234a" stroke="none" stroke-width="1"/>
<path d="M352.4 460.7L352.4 450.5L361.4 450.5L361.4 460.7" stroke="#7e1d3b" stroke-width="1.1" fill="none" />
<line x1="352.4" y1="467" x2="352.4" y2="507.4" stroke="#7e1d3b" stroke-width="1.1"/>
<line x1="361.4" y1="467" x2="361.4" y2="507.4" stroke="#7e1d3b" stroke-width="1.1"/>
<rect x="367" y="504.98" width="9" height="2.42" fill="#fff" stroke="#34507f" stroke-width="1.1"/>
<rect x="381.3" y="479.93" width="9.2" height="27.47" fill="#fff" stroke="#34507f" stroke-width="1.1"/>
<line x1="342.4" y1="482.76" x2="342.4" y2="503.36" stroke="#000" stroke-width="1.1"/>
<line x1="340.15" y1="482.76" x2="344.65" y2="482.76" stroke="#000" stroke-width="1.1"/>
<path d="M338.1 483.63L340.6 487.98L335.6 487.98Z" stroke="#b50d38" stroke-width="0.6" fill="#b50d38" />
<path d="M345 484.43L347.5 488.78L342.5 488.78Z" stroke="#b50d38" stroke-width="0.6" fill="#b50d38" />
<path d="M342.4 501.4L344.9 505.75L339.9 505.75Z" stroke="#b50d38" stroke-width="0.6" fill="#b50d38" />
<path d="M356.9 434.66L360.05 440.14L353.75 440.14Z" stroke="#6e1532" stroke-width="1.3" fill="none" stroke-linejoin="miter"/>
<path d="M354.7 449.05L356.8 452.7L352.6 452.7Z" stroke="#f4d6de" stroke-width="0.9" fill="none" stroke-linejoin="miter"/>
<path d="M359.1 450.11L361.2 453.76L357 453.76Z" stroke="#f4d6de" stroke-width="0.9" fill="none" stroke-linejoin="miter"/>
<path d="M356.9 453.04L359 456.69L354.8 456.69Z" stroke="#f4d6de" stroke-width="0.9" fill="none" stroke-linejoin="miter"/>
<path d="M354.9 455.7L357 459.35L352.8 459.35Z" stroke="#f4d6de" stroke-width="0.9" fill="none" stroke-linejoin="miter"/>
<path d="M358.9 456.36L361 460.01L356.8 460.01Z" stroke="#f4d6de" stroke-width="0.9" fill="none" stroke-linejoin="miter"/>
<line x1="356.9" y1="438.72" x2="356.9" y2="460" stroke="#222" stroke-width="1.1"/>
<circle cx="371.5" cy="502.55" r="2.9" fill="#27457e"/>
<circle cx="368.5" cy="504.17" r="2.9" fill="#27457e"/>
<circle cx="374" cy="504.98" r="2.9" fill="#27457e"/>
<circle cx="370" cy="505.78" r="2.9" fill="#27457e"/>
<circle cx="375.5" cy="506.19" r="2.9" fill="#27457e"/>
<circle cx="385.9" cy="473.46" r="2.7" fill="none" stroke="#1f3360" stroke-width="1.15"/>
<circle cx="383.4" cy="475.89" r="2.7" fill="none" stroke="#1f3360" stroke-width="1.15"/>
<circle cx="387.9" cy="478.31" r="2.7" fill="none" stroke="#1f3360" stroke-width="1.15"/>
<circle cx="381.9" cy="480.74" r="2.7" fill="none" stroke="#1f3360" stroke-width="1.15"/>
<circle cx="389.4" cy="483.16" r="2.7" fill="none" stroke="#1f3360" stroke-width="1.15"/>
<circle cx="384.9" cy="484.78" r="2.7" fill="none" stroke="#1f3360" stroke-width="1.15"/>
<circle cx="385.9" cy="488.01" r="2.7" fill="none" stroke="#1f3360" stroke-width="1.15"/>
<line x1="385.9" y1="475.08" x2="385.9" y2="479.93" stroke="#000" stroke-width="1.1"/>
<line x1="383.65" y1="475.08" x2="388.15" y2="475.08" stroke="#000" stroke-width="1.1"/>
<path d="M342.2 431.5L342.2 427.9L356.9 427.9L356.9 431.5" stroke="#000" stroke-width="1.15" fill="none" />
<text x="336.7" y="424.5" font-size="7" fill="#231f20" stroke="#231f20" xml:space="preserve" style="white-space:pre"><tspan x="336.7" dy="0" font-style="italic">P</tspan><tspan x="341.37" dy="0">=0.057</tspan></text>
<path d="M371.5 466.8L371.5 463.2L385.9 463.2L385.9 466.8" stroke="#000" stroke-width="1.15" fill="none" />
<text x="364.5" y="461" font-size="7" fill="#231f20" stroke="#231f20" xml:space="preserve" style="white-space:pre"><tspan x="364.5" dy="0" font-style="italic">P</tspan><tspan x="369.17" dy="0">=0.0022</tspan></text>
<line x1="452.5" y1="507.6" x2="452.5" y2="467" stroke="#000" stroke-width="1.25"/>
<line x1="452.5" y1="460.2" x2="452.5" y2="417.6" stroke="#000" stroke-width="1.25"/>
<line x1="451.9" y1="507.6" x2="512.6" y2="507.6" stroke="#000" stroke-width="1.25"/>
<line x1="449.1" y1="467" x2="455.9" y2="467" stroke="#000" stroke-width="1.1"/>
<line x1="449.1" y1="460.2" x2="455.9" y2="460.2" stroke="#000" stroke-width="1.1"/>
<line x1="449.3" y1="507.6" x2="452.5" y2="507.6" stroke="#000" stroke-width="1.1"/>
<text x="432.99" y="510.9" font-size="9" fill="#231f20" stroke="#231f20" xml:space="preserve" style="white-space:pre"><tspan x="432.99" dy="0">0.0</tspan></text>
<line x1="449.3" y1="487.3" x2="452.5" y2="487.3" stroke="#000" stroke-width="1.1"/>
<text x="432.99" y="490.4" font-size="9" fill="#231f20" stroke="#231f20" xml:space="preserve" style="white-space:pre"><tspan x="432.99" dy="0">0.4</tspan></text>
<line x1="449.3" y1="467" x2="452.5" y2="467" stroke="#000" stroke-width="1.1"/>
<text x="432.99" y="469.8" font-size="9" fill="#231f20" stroke="#231f20" xml:space="preserve" style="white-space:pre"><tspan x="432.99" dy="0">0.8</tspan></text>
<line x1="449.3" y1="447" x2="452.5" y2="447" stroke="#000" stroke-width="1.1"/>
<text x="440.49" y="449.3" font-size="9" fill="#231f20" stroke="#231f20" xml:space="preserve" style="white-space:pre"><tspan x="440.49" dy="0">4</tspan></text>
<line x1="449.3" y1="433.8" x2="452.5" y2="433.8" stroke="#000" stroke-width="1.1"/>
<text x="440.49" y="436.1" font-size="9" fill="#231f20" stroke="#231f20" xml:space="preserve" style="white-space:pre"><tspan x="440.49" dy="0">8</tspan></text>
<line x1="449.3" y1="420.6" x2="452.5" y2="420.6" stroke="#000" stroke-width="1.1"/>
<text x="435.49" y="422.9" font-size="9" fill="#231f20" stroke="#231f20" xml:space="preserve" style="white-space:pre"><tspan x="435.49" dy="0">12</tspan></text>
<text x="-16.81" y="0" font-size="10.8" fill="#231f20" stroke="#231f20" transform="translate(412.72 463) rotate(-90) scale(0.89 1)" xml:space="preserve" style="white-space:pre"><tspan x="-16.81" dy="0">Spleen</tspan></text>
<text x="-51.32" y="0" font-size="10.8" fill="#231f20" stroke="#231f20" transform="translate(426.62 465) rotate(-90) scale(0.89 1)" xml:space="preserve" style="white-space:pre"><tspan x="-51.32" dy="0">donor NK cells (x10</tspan><tspan x="42.92" dy="-3.9" font-size="8.64">5</tspan><tspan x="47.73" dy="3.9">)</tspan></text>
<line x1="460.5" y1="507.6" x2="460.5" y2="510.8" stroke="#000" stroke-width="1.1"/>
<line x1="474.3" y1="507.6" x2="474.3" y2="510.8" stroke="#000" stroke-width="1.1"/>
<line x1="489.5" y1="507.6" x2="489.5" y2="510.8" stroke="#000" stroke-width="1.1"/>
<line x1="503.4" y1="507.6" x2="503.4" y2="510.8" stroke="#000" stroke-width="1.1"/>
<rect x="455.9" y="485.27" width="9.2" height="22.33" fill="#fff" stroke="#7e1d3b" stroke-width="1.1"/>
<path d="M469.3 460.2L469.3 437.76L479.3 437.76L479.3 460.2" stroke="#7e1d3b" stroke-width="1.1" fill="none" />
<line x1="469.3" y1="467" x2="469.3" y2="507.6" stroke="#7e1d3b" stroke-width="1.1"/>
<line x1="479.3" y1="467" x2="479.3" y2="507.6" stroke="#7e1d3b" stroke-width="1.1"/>
<rect x="485" y="504.05" width="9" height="3.55" fill="#fff" stroke="#34507f" stroke-width="1.1"/>
<path d="M498.4 460.2L498.4 449.31L508.4 449.31L508.4 460.2" stroke="#34507f" stroke-width="1.1" fill="none" />
<line x1="498.4" y1="467" x2="498.4" y2="507.6" stroke="#34507f" stroke-width="1.1"/>
<line x1="508.4" y1="467" x2="508.4" y2="507.6" stroke="#34507f" stroke-width="1.1"/>
<line x1="460.5" y1="469.54" x2="460.5" y2="499.99" stroke="#000" stroke-width="1.1"/>
<line x1="458.25" y1="469.54" x2="462.75" y2="469.54" stroke="#000" stroke-width="1.1"/>
<path d="M460.5 467.66L462.9 471.83L458.1 471.83Z" stroke="#b50d38" stroke-width="0.6" fill="#b50d38" />
<path d="M460.5 485.42L462.9 489.6L458.1 489.6Z" stroke="#b50d38" stroke-width="0.6" fill="#b50d38" />
<path d="M460.5 498.11L462.9 502.28L458.1 502.28Z" stroke="#b50d38" stroke-width="0.6" fill="#b50d38" />
<line x1="474.3" y1="430.5" x2="474.3" y2="442.05" stroke="#222" stroke-width="1.1"/>
<line x1="472" y1="430.5" x2="476.6" y2="430.5" stroke="#222" stroke-width="1.1"/>
<path d="M469.8 428.69L472.95 434.17L466.65 434.17Z" stroke="#6e1532" stroke-width="1.3" fill="none" stroke-linejoin="miter"/>
<path d="M478.8 428.69L481.95 434.17L475.65 434.17Z" stroke="#6e1532" stroke-width="1.3" fill="none" stroke-linejoin="miter"/>
<path d="M479.8 432.98L482.95 438.46L476.65 438.46Z" stroke="#6e1532" stroke-width="1.3" fill="none" stroke-linejoin="miter"/>
<path d="M470.8 434.63L473.95 440.11L467.65 440.11Z" stroke="#6e1532" stroke-width="1.3" fill="none" stroke-linejoin="miter"/>
<path d="M479.8 437.93L482.95 443.41L476.65 443.41Z" stroke="#6e1532" stroke-width="1.3" fill="none" stroke-linejoin="miter"/>
<path d="M470.8 441.23L473.95 446.71L467.65 446.71Z" stroke="#6e1532" stroke-width="1.3" fill="none" stroke-linejoin="miter"/>
<circle cx="491.5" cy="501" r="2.9" fill="#27457e"/>
<circle cx="487.5" cy="503.54" r="2.9" fill="#27457e"/>
<circle cx="492.5" cy="504.56" r="2.9" fill="#27457e"/>
<circle cx="485.5" cy="505.57" r="2.9" fill="#27457e"/>
<circle cx="489.5" cy="506.08" r="2.9" fill="#27457e"/>
<line x1="503.4" y1="444.36" x2="503.4" y2="449.31" stroke="#000" stroke-width="1.1"/>
<line x1="501.15" y1="444.36" x2="505.65" y2="444.36" stroke="#000" stroke-width="1.1"/>
<circle cx="503.4" cy="437.1" r="2.7" fill="none" stroke="#1f3360" stroke-width="1.15"/>
<circle cx="500.4" cy="449.31" r="2.7" fill="none" stroke="#1f3360" stroke-width="1.15"/>
<circle cx="506.4" cy="449.64" r="2.7" fill="none" stroke="#1f3360" stroke-width="1.15"/>
<circle cx="503.4" cy="451.29" r="2.7" fill="none" stroke="#1f3360" stroke-width="1.15"/>
<circle cx="500.4" cy="452.94" r="2.7" fill="none" stroke="#1f3360" stroke-width="1.15"/>
<circle cx="506.4" cy="453.6" r="2.7" fill="none" stroke="#1f3360" stroke-width="1.15"/>
<circle cx="503.4" cy="455.58" r="2.7" fill="none" stroke="#1f3360" stroke-width="1.15"/>
<path d="M459.7 427L459.7 423.5L475.1 423.5L475.1 427" stroke="#000" stroke-width="1.15" fill="none" />
<text x="455.4" y="419.2" font-size="7" fill="#231f20" stroke="#231f20" xml:space="preserve" style="white-space:pre"><tspan x="455.4" dy="0" font-style="italic">P</tspan><tspan x="460.07" dy="0">=0.057</tspan></text>
<path d="M489.2 433.2L489.2 429.7L503.4 429.7L503.4 433.2" stroke="#000" stroke-width="1.15" fill="none" />
<text x="482.3" y="426.6" font-size="7" fill="#231f20" stroke="#231f20" xml:space="preserve" style="white-space:pre"><tspan x="482.3" dy="0" font-style="italic">P</tspan><tspan x="486.97" dy="0">=0.0022</tspan></text>
<text x="0" y="0" font-size="13.6" font-weight="bold" fill="#000" stroke="#000" transform="translate(273.1 541.8) scale(0.9 1)" xml:space="preserve" style="white-space:pre"><tspan x="0" dy="0">F</tspan></text>
<circle cx="292.9" cy="549.8" r="2.9" fill="#27457e"/>
<text x="301" y="552.72" font-size="8.35" fill="#231f20" stroke="#231f20" xml:space="preserve" style="white-space:pre"><tspan x="301" dy="0">B6 TCD BM + B6 T </tspan><tspan x="382.91" dy="0"> B6D2F1</tspan></text>
<g><path d="M375.39 550.3L382.03 550.3" stroke="#231f20" stroke-width="0.96" fill="none"/><path d="M383.16 550.3L380.9 548.71L380.9 551.89Z" fill="#231f20"/></g>
<circle cx="292.9" cy="559.6" r="2.7" fill="none" stroke="#1f3360" stroke-width="1.15"/>
<text x="301" y="562.52" font-size="8.35" fill="#231f20" stroke="#231f20" xml:space="preserve" style="white-space:pre"><tspan x="301" dy="0">B6 TCD BM </tspan><tspan x="356.06" dy="0"> B6D2F1</tspan></text>
<g><path d="M348.54 560.1L355.18 560.1" stroke="#231f20" stroke-width="0.96" fill="none"/><path d="M356.31 560.1L354.05 558.51L354.05 561.69Z" fill="#231f20"/></g>
<path d="M292.9 566.7L295.6 569.4L292.9 572.1L290.2 569.4Z" stroke="#4a2870" stroke-width="1.1" fill="none" />
<text x="301" y="572.32" font-size="8.35" fill="#231f20" stroke="#231f20" xml:space="preserve" style="white-space:pre"><tspan x="301" dy="0">B6 TCD BM </tspan><tspan x="356.06" dy="0"> B6D2F1 + CD11c depletion</tspan></text>
<g><path d="M348.54 569.9L355.18 569.9" stroke="#231f20" stroke-width="0.96" fill="none"/><path d="M356.31 569.9L354.05 568.31L354.05 571.49Z" fill="#231f20"/></g>
<text x="343.52" y="588.5" font-size="10.5" fill="#231f20" stroke="#231f20" xml:space="preserve" style="white-space:pre"><tspan x="343.52" dy="0">BM</tspan></text>
<text x="420.33" y="588.5" font-size="10.5" fill="#231f20" stroke="#231f20" xml:space="preserve" style="white-space:pre"><tspan x="420.33" dy="0">spleen</tspan></text>
<line x1="329.6" y1="688.5" x2="329.6" y2="598.5" stroke="#000" stroke-width="1.25"/>
<line x1="329" y1="688.5" x2="372.4" y2="688.5" stroke="#000" stroke-width="1.25"/>
<line x1="326.4" y1="688.5" x2="329.6" y2="688.5" stroke="#000" stroke-width="1.1"/>
<text x="310.99" y="690.79" font-size="9" fill="#231f20" stroke="#231f20" xml:space="preserve" style="white-space:pre"><tspan x="310.99" dy="0">0.0</tspan></text>
<line x1="326.4" y1="666.75" x2="329.6" y2="666.75" stroke="#000" stroke-width="1.1"/>
<text x="310.99" y="669.04" font-size="9" fill="#231f20" stroke="#231f20" xml:space="preserve" style="white-space:pre"><tspan x="310.99" dy="0">0.2</tspan></text>
<line x1="326.4" y1="645" x2="329.6" y2="645" stroke="#000" stroke-width="1.1"/>
<text x="310.99" y="647.29" font-size="9" fill="#231f20" stroke="#231f20" xml:space="preserve" style="white-space:pre"><tspan x="310.99" dy="0">0.4</tspan></text>
<line x1="326.4" y1="623.25" x2="329.6" y2="623.25" stroke="#000" stroke-width="1.1"/>
<text x="310.99" y="625.54" font-size="9" fill="#231f20" stroke="#231f20" xml:space="preserve" style="white-space:pre"><tspan x="310.99" dy="0">0.6</tspan></text>
<line x1="326.4" y1="601.5" x2="329.6" y2="601.5" stroke="#000" stroke-width="1.1"/>
<text x="310.99" y="603.79" font-size="9" fill="#231f20" stroke="#231f20" xml:space="preserve" style="white-space:pre"><tspan x="310.99" dy="0">0.8</tspan></text>
<text x="-52.22" y="0" font-size="10.8" fill="#231f20" stroke="#231f20" transform="translate(304.12 645.2) rotate(-90) scale(0.89 1)" xml:space="preserve" style="white-space:pre"><tspan x="-52.22" dy="0">Donor NK cells (x10</tspan><tspan x="43.82" dy="-3.9" font-size="8.64">5</tspan><tspan x="48.62" dy="3.9">)</tspan></text>
<line x1="336.1" y1="688.5" x2="336.1" y2="691.7" stroke="#000" stroke-width="1.1"/>
<line x1="350.4" y1="688.5" x2="350.4" y2="691.7" stroke="#000" stroke-width="1.1"/>
<line x1="364.9" y1="688.5" x2="364.9" y2="691.7" stroke="#000" stroke-width="1.1"/>
<rect x="331.5" y="685.24" width="9.2" height="3.26" fill="#fff" stroke="#34507f" stroke-width="1.1"/>
<rect x="345.8" y="641.74" width="9.2" height="46.76" fill="#fff" stroke="#34507f" stroke-width="1.1"/>
<rect x="360.3" y="626.51" width="9.2" height="61.99" fill="#fff" stroke="#6c5a80" stroke-width="1.1"/>
<circle cx="334.1" cy="684.15" r="2.9" fill="#27457e"/>
<circle cx="336.6" cy="684.69" r="2.9" fill="#27457e"/>
<circle cx="339.1" cy="684.15" r="2.9" fill="#27457e"/>
<circle cx="332.9" cy="685.78" r="2.9" fill="#27457e"/>
<circle cx="340.6" cy="685.24" r="2.9" fill="#27457e"/>
<circle cx="337.1" cy="686.33" r="2.9" fill="#27457e"/>
<circle cx="348.9" cy="622.16" r="2.7" fill="none" stroke="#1f3360" stroke-width="1.15"/>
<circle cx="352.2" cy="623.25" r="2.7" fill="none" stroke="#1f3360" stroke-width="1.15"/>
<circle cx="350.9" cy="625.97" r="2.7" fill="none" stroke="#1f3360" stroke-width="1.15"/>
<circle cx="346.9" cy="649.35" r="2.7" fill="none" stroke="#1f3360" stroke-width="1.15"/>
<circle cx="353.4" cy="654.79" r="2.7" fill="none" stroke="#1f3360" stroke-width="1.15"/>
<circle cx="350.4" cy="671.1" r="2.7" fill="none" stroke="#1f3360" stroke-width="1.15"/>
<path d="M364.9 611.21L367.7 614.01L364.9 616.81L362.1 614.01Z" stroke="#4a2870" stroke-width="1.1" fill="none" />
<path d="M363.4 617.19L366.2 619.99L363.4 622.79L360.6 619.99Z" stroke="#4a2870" stroke-width="1.1" fill="none" />
<path d="M367.7 620.45L370.5 623.25L367.7 626.05L364.9 623.25Z" stroke="#4a2870" stroke-width="1.1" fill="none" />
<path d="M361.4 620.45L364.2 623.25L361.4 626.05L358.6 623.25Z" stroke="#4a2870" stroke-width="1.1" fill="none" />
<path d="M364.9 654.16L367.7 656.96L364.9 659.76L362.1 656.96Z" stroke="#4a2870" stroke-width="1.1" fill="none" />
<line x1="350.4" y1="633.04" x2="350.4" y2="641.74" stroke="#000" stroke-width="1.1"/>
<line x1="348.15" y1="633.04" x2="352.65" y2="633.04" stroke="#000" stroke-width="1.1"/>
<line x1="364.9" y1="619.99" x2="364.9" y2="626.51" stroke="#000" stroke-width="1.1"/>
<line x1="362.65" y1="619.99" x2="367.15" y2="619.99" stroke="#000" stroke-width="1.1"/>
<path d="M336.1 618.2L336.1 614.6L350.4 614.6L350.4 618.2" stroke="#000" stroke-width="1.15" fill="none" />
<circle cx="341.35" cy="610.6" r="1.15" fill="#111"/>
<circle cx="345.15" cy="610.6" r="1.15" fill="#111"/>
<path d="M350.4 608L350.4 604.2L364.9 604.2L364.9 608" stroke="#000" stroke-width="1.15" fill="none" />
<text x="353.11" y="601.9" font-size="8.6" fill="#231f20" stroke="#231f20" xml:space="preserve" style="white-space:pre"><tspan x="353.11" dy="0">ns</tspan></text>
<line x1="414.3" y1="687.8" x2="414.3" y2="600.1" stroke="#000" stroke-width="1.25"/>
<line x1="413.7" y1="687.8" x2="456.6" y2="687.8" stroke="#000" stroke-width="1.25"/>
<line x1="411.1" y1="687.8" x2="414.3" y2="687.8" stroke="#000" stroke-width="1.1"/>
<text x="403.56" y="689.79" font-size="7.8" fill="#3a3a3a" stroke="#3a3a3a" xml:space="preserve" style="white-space:pre"><tspan x="403.56" dy="0">0</tspan></text>
<line x1="411.1" y1="670.86" x2="414.3" y2="670.86" stroke="#000" stroke-width="1.1"/>
<text x="403.56" y="672.85" font-size="7.8" fill="#3a3a3a" stroke="#3a3a3a" xml:space="preserve" style="white-space:pre"><tspan x="403.56" dy="0">2</tspan></text>
<line x1="411.1" y1="653.92" x2="414.3" y2="653.92" stroke="#000" stroke-width="1.1"/>
<text x="403.56" y="655.91" font-size="7.8" fill="#3a3a3a" stroke="#3a3a3a" xml:space="preserve" style="white-space:pre"><tspan x="403.56" dy="0">4</tspan></text>
<line x1="411.1" y1="636.98" x2="414.3" y2="636.98" stroke="#000" stroke-width="1.1"/>
<text x="403.56" y="638.97" font-size="7.8" fill="#3a3a3a" stroke="#3a3a3a" xml:space="preserve" style="white-space:pre"><tspan x="403.56" dy="0">6</tspan></text>
<line x1="411.1" y1="620.04" x2="414.3" y2="620.04" stroke="#000" stroke-width="1.1"/>
<text x="403.56" y="622.03" font-size="7.8" fill="#3a3a3a" stroke="#3a3a3a" xml:space="preserve" style="white-space:pre"><tspan x="403.56" dy="0">8</tspan></text>
<line x1="411.1" y1="603.1" x2="414.3" y2="603.1" stroke="#000" stroke-width="1.1"/>
<text x="399.22" y="605.09" font-size="7.8" fill="#3a3a3a" stroke="#3a3a3a" xml:space="preserve" style="white-space:pre"><tspan x="399.22" dy="0">10</tspan></text>
<text x="-52.22" y="0" font-size="10.8" fill="#231f20" stroke="#231f20" transform="translate(392.52 645.8) rotate(-90) scale(0.89 1)" xml:space="preserve" style="white-space:pre"><tspan x="-52.22" dy="0">Donor NK cells (x10</tspan><tspan x="43.82" dy="-3.9" font-size="8.64">5</tspan><tspan x="48.62" dy="3.9">)</tspan></text>
<line x1="421.2" y1="687.8" x2="421.2" y2="691" stroke="#000" stroke-width="1.1"/>
<line x1="434.6" y1="687.8" x2="434.6" y2="691" stroke="#000" stroke-width="1.1"/>
<line x1="448.9" y1="687.8" x2="448.9" y2="691" stroke="#000" stroke-width="1.1"/>
<rect x="416.6" y="685.68" width="9.2" height="2.12" fill="#fff" stroke="#34507f" stroke-width="1.1"/>
<rect x="430" y="657.31" width="9.2" height="30.49" fill="#fff" stroke="#34507f" stroke-width="1.1"/>
<rect x="444.3" y="639.52" width="9.2" height="48.28" fill="#fff" stroke="#6c5a80" stroke-width="1.1"/>
<circle cx="422.2" cy="679.33" r="2.5" fill="#27457e"/>
<circle cx="418.7" cy="685.68" r="2.5" fill="#27457e"/>
<circle cx="423.7" cy="686.11" r="2.5" fill="#27457e"/>
<circle cx="421.2" cy="686.95" r="2.5" fill="#27457e"/>
<circle cx="425.2" cy="687.38" r="2.5" fill="#27457e"/>
<circle cx="417.7" cy="687.38" r="2.5" fill="#27457e"/>
<circle cx="434.1" cy="645.45" r="2.7" fill="none" stroke="#1f3360" stroke-width="1.15"/>
<circle cx="436.1" cy="650.53" r="2.7" fill="none" stroke="#1f3360" stroke-width="1.15"/>
<circle cx="433.1" cy="655.61" r="2.7" fill="none" stroke="#1f3360" stroke-width="1.15"/>
<circle cx="438.6" cy="660.7" r="2.7" fill="none" stroke="#1f3360" stroke-width="1.15"/>
<circle cx="433.6" cy="661.54" r="2.7" fill="none" stroke="#1f3360" stroke-width="1.15"/>
<circle cx="431.6" cy="667.47" r="2.7" fill="none" stroke="#1f3360" stroke-width="1.15"/>
<path d="M444.9 618.93L447.7 621.73L444.9 624.53L442.1 621.73Z" stroke="#4a2870" stroke-width="1.1" fill="none" />
<path d="M452.9 618.93L455.7 621.73L452.9 624.53L450.1 621.73Z" stroke="#4a2870" stroke-width="1.1" fill="none" />
<path d="M448.9 629.1L451.7 631.9L448.9 634.7L446.1 631.9Z" stroke="#4a2870" stroke-width="1.1" fill="none" />
<path d="M444.9 642.65L447.7 645.45L444.9 648.25L442.1 645.45Z" stroke="#4a2870" stroke-width="1.1" fill="none" />
<path d="M452.4 642.65L455.2 645.45L452.4 648.25L449.6 645.45Z" stroke="#4a2870" stroke-width="1.1" fill="none" />
<path d="M448.9 658.74L451.7 661.54L448.9 664.34L446.1 661.54Z" stroke="#4a2870" stroke-width="1.1" fill="none" />
<line x1="434.6" y1="653.07" x2="434.6" y2="657.31" stroke="#000" stroke-width="1.1"/>
<line x1="432.35" y1="653.07" x2="436.85" y2="653.07" stroke="#000" stroke-width="1.1"/>
<line x1="448.9" y1="633.59" x2="448.9" y2="639.52" stroke="#000" stroke-width="1.1"/>
<line x1="446.65" y1="633.59" x2="451.15" y2="633.59" stroke="#000" stroke-width="1.1"/>
<path d="M421.2 638.8L421.2 635.4L434.6 635.4L434.6 638.8" stroke="#000" stroke-width="1.15" fill="none" />
<circle cx="426" cy="631.4" r="1.15" fill="#111"/>
<circle cx="429.8" cy="631.4" r="1.15" fill="#111"/>
<path d="M434.6 618L434.6 614.2L448.9 614.2L448.9 618" stroke="#000" stroke-width="1.15" fill="none" />
<text x="437.21" y="611.2" font-size="8.6" fill="#231f20" stroke="#231f20" xml:space="preserve" style="white-space:pre"><tspan x="437.21" dy="0">ns</tspan></text>
<rect x="0" y="0" width="520" height="1.4" fill="#000" stroke="none" stroke-width="1"/>
<rect x="0" y="0" width="1.4" height="710" fill="#000" stroke="none" stroke-width="1"/>
<rect x="518.2" y="0" width="1.8" height="710" fill="#000" stroke="none" stroke-width="1"/>
<rect x="0" y="708.2" width="520" height="1.8" fill="#000" stroke="none" stroke-width="1"/></svg>
</div></body></html>
